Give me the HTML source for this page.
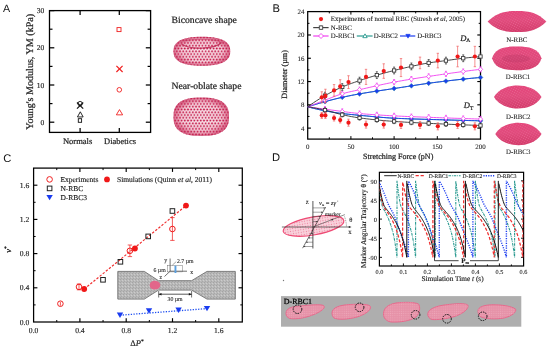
<!DOCTYPE html><html><head><meta charset="utf-8"><style>html,body{margin:0;padding:0;background:#fff;width:550px;height:350px;overflow:hidden;}svg{display:block;will-change:transform;text-rendering:geometricPrecision;filter:blur(0.3px);}</style></head><body>
<svg width="550" height="350" viewBox="0 0 550 350">
<defs>
<pattern id="mesh" width="3.2" height="5.543" patternUnits="userSpaceOnUse"><rect width="3.2" height="5.543" fill="#fcedf2"/><path d="M0,1.386 L3.2,1.386 M0,4.157 L3.2,4.157 M0.800,1.386 L2.400,4.157 M2.400,4.157 L4.000,6.928 M0.800,1.386 L-0.800,4.157 M2.400,4.157 L0.800,6.928 M4.000,1.386 L2.400,4.157 M2.400,-1.386 L0.800,1.386 M-0.800,-1.386 L0.800,1.386" stroke="#e8a0b4" stroke-width="0.4"/><circle cx="0.800" cy="1.386" r="0.92" fill="#c41c4c"/><circle cx="2.400" cy="4.157" r="0.92" fill="#c41c4c"/></pattern><radialGradient id="edgeA" cx="50%" cy="50%" r="50%"><stop offset="0%" stop-color="#d0305e" stop-opacity="0"/><stop offset="72%" stop-color="#d0305e" stop-opacity="0.12"/><stop offset="100%" stop-color="#c42856" stop-opacity="0.65"/></radialGradient>
<radialGradient id="rbcA" cx="50%" cy="55%" r="52%"><stop offset="0%" stop-color="#fae6ec"/><stop offset="60%" stop-color="#f0b4c6"/><stop offset="100%" stop-color="#d23a68"/></radialGradient>
<linearGradient id="rbcB" x1="0" y1="0" x2="0" y2="1"><stop offset="0%" stop-color="#e4447a"/><stop offset="45%" stop-color="#e04a7c"/><stop offset="100%" stop-color="#d23a6a"/></linearGradient><pattern id="meshB" width="2.2" height="2.2" patternUnits="userSpaceOnUse" patternTransform="rotate(30)"><circle cx="1.1" cy="1.1" r="0.6" fill="#f07aa0" opacity="0.6"/></pattern>
<pattern id="speck" width="3" height="3" patternUnits="userSpaceOnUse"><rect width="3" height="3" fill="#b8b8b8"/><rect x="0" y="0" width="1" height="1" fill="#a4a4a4"/><rect x="2" y="1" width="1" height="1" fill="#cccccc"/><rect x="1" y="2" width="1" height="1" fill="#a8a8a8"/></pattern>
<radialGradient id="cellin" cx="50%" cy="50%" r="50%"><stop offset="0%" stop-color="#dca4b2"/><stop offset="70%" stop-color="#e290a6"/><stop offset="100%" stop-color="#eb6a8c" stop-opacity="0"/></radialGradient><pattern id="cellmesh" width="2.2" height="2.2" patternUnits="userSpaceOnUse"><circle cx="1.1" cy="1.1" r="0.6" fill="#f2b0c0" opacity="0.7"/></pattern>
<radialGradient id="ctrA" cx="50%" cy="58%" r="50%"><stop offset="0%" stop-color="#fff" stop-opacity="0.45"/><stop offset="60%" stop-color="#fff" stop-opacity="0.2"/><stop offset="100%" stop-color="#fff" stop-opacity="0"/></radialGradient>
<pattern id="meshD" width="2.6" height="2.6" patternUnits="userSpaceOnUse"><rect width="2.6" height="2.6" fill="#f9d2dc"/><circle cx="1.3" cy="1.3" r="0.6" fill="#ee7f9c"/></pattern>
</defs>
<rect width="550" height="350" fill="#fff"/>
<text x="2.90" y="12.00" font-size="10.7" text-anchor="start" font-family='"Liberation Sans", sans-serif' fill="#111" stroke="#111" stroke-width="0" >A</text>
<text x="272.50" y="12.30" font-size="11.2" text-anchor="start" font-family='"Liberation Sans", sans-serif' fill="#111" stroke="#111" stroke-width="0" >B</text>
<text x="3.20" y="161.60" font-size="11.2" text-anchor="start" font-family='"Liberation Sans", sans-serif' fill="#111" stroke="#111" stroke-width="0" >C</text>
<text x="272.00" y="161.20" font-size="11.2" text-anchor="start" font-family='"Liberation Sans", sans-serif' fill="#111" stroke="#111" stroke-width="0" >D</text>
<rect x="49.50" y="10.60" width="101.10" height="121.80" fill="none" stroke="#000" stroke-width="1.3"/>
<line x1="49.50" y1="122.20" x2="54.30" y2="122.20" stroke="#000" stroke-width="1.25" />
<line x1="150.60" y1="122.20" x2="145.80" y2="122.20" stroke="#000" stroke-width="1.25" />
<line x1="49.50" y1="85.00" x2="54.30" y2="85.00" stroke="#000" stroke-width="1.25" />
<line x1="150.60" y1="85.00" x2="145.80" y2="85.00" stroke="#000" stroke-width="1.25" />
<line x1="49.50" y1="47.80" x2="54.30" y2="47.80" stroke="#000" stroke-width="1.25" />
<line x1="150.60" y1="47.80" x2="145.80" y2="47.80" stroke="#000" stroke-width="1.25" />
<line x1="49.50" y1="10.60" x2="54.30" y2="10.60" stroke="#000" stroke-width="1.25" />
<line x1="150.60" y1="10.60" x2="145.80" y2="10.60" stroke="#000" stroke-width="1.25" />
<line x1="49.50" y1="103.60" x2="52.50" y2="103.60" stroke="#000" stroke-width="1.2" />
<line x1="150.60" y1="103.60" x2="147.60" y2="103.60" stroke="#000" stroke-width="1.2" />
<line x1="49.50" y1="66.40" x2="52.50" y2="66.40" stroke="#000" stroke-width="1.2" />
<line x1="150.60" y1="66.40" x2="147.60" y2="66.40" stroke="#000" stroke-width="1.2" />
<line x1="49.50" y1="29.20" x2="52.50" y2="29.20" stroke="#000" stroke-width="1.2" />
<line x1="150.60" y1="29.20" x2="147.60" y2="29.20" stroke="#000" stroke-width="1.2" />
<line x1="80.10" y1="132.40" x2="80.10" y2="128.00" stroke="#000" stroke-width="1.25" />
<line x1="80.10" y1="10.60" x2="80.10" y2="15.00" stroke="#000" stroke-width="1.25" />
<line x1="119.30" y1="132.40" x2="119.30" y2="128.00" stroke="#000" stroke-width="1.25" />
<line x1="119.30" y1="10.60" x2="119.30" y2="15.00" stroke="#000" stroke-width="1.25" />
<text x="44.30" y="124.80" font-size="7.5" text-anchor="end" font-family='"Liberation Serif", serif' fill="#222" stroke="#222" stroke-width="0.15" >0</text>
<text x="44.30" y="87.60" font-size="7.5" text-anchor="end" font-family='"Liberation Serif", serif' fill="#222" stroke="#222" stroke-width="0.15" >10</text>
<text x="44.30" y="50.40" font-size="7.5" text-anchor="end" font-family='"Liberation Serif", serif' fill="#222" stroke="#222" stroke-width="0.15" >20</text>
<text x="44.30" y="13.20" font-size="7.5" text-anchor="end" font-family='"Liberation Serif", serif' fill="#222" stroke="#222" stroke-width="0.15" >30</text>
<text x="32.60" y="71.80" font-size="10.1" text-anchor="middle" font-family='"Liberation Serif", serif' fill="#222" stroke="#222" stroke-width="0.22" transform="rotate(-90 32.6 71.8)">Young's Modulus, YM (kPa)</text>
<text x="77.60" y="143.60" font-size="8.55" text-anchor="middle" font-family='"Liberation Serif", serif' fill="#222" stroke="#222" stroke-width="0.22" >Normals</text>
<text x="120.05" y="143.60" font-size="8.45" text-anchor="middle" font-family='"Liberation Serif", serif' fill="#222" stroke="#222" stroke-width="0.22" >Diabetics</text>
<circle cx="80.10" cy="103.60" r="2.2" fill="none" stroke="#111" stroke-width="0.9"/>
<line x1="77.00" y1="102.50" x2="83.20" y2="108.70" stroke="#111" stroke-width="1.15" />
<line x1="77.00" y1="108.70" x2="83.20" y2="102.50" stroke="#111" stroke-width="1.15" />
<polygon points="77.45,116.95 83.15,116.95 80.30,111.80" fill="none" stroke="#111" stroke-width="0.9"/>
<rect x="78.3" y="118.7" width="3.3" height="3.6" fill="none" stroke="#111" stroke-width="0.9"/>
<rect x="117.0" y="27.6" width="4.0" height="4.0" fill="none" stroke="#f02020" stroke-width="0.9"/>
<line x1="116.40" y1="65.80" x2="122.60" y2="72.00" stroke="#f02020" stroke-width="1.2" />
<line x1="116.40" y1="72.00" x2="122.60" y2="65.80" stroke="#f02020" stroke-width="1.2" />
<circle cx="119.30" cy="89.80" r="2.3" fill="none" stroke="#f02020" stroke-width="0.9"/>
<polygon points="116.35,114.85 122.65,114.85 119.50,109.60" fill="none" stroke="#f02020" stroke-width="0.9"/>
<text x="171.50" y="23.00" font-size="9.7" text-anchor="start" font-family='"Liberation Serif", serif' fill="#222" stroke="#222" stroke-width="0.22" >Biconcave shape</text>
<text x="171.50" y="89.00" font-size="9.7" text-anchor="start" font-family='"Liberation Serif", serif' fill="#222" stroke="#222" stroke-width="0.22" >Near-oblate shape</text>
<path d="M230.20,51.25 L230.11,53.30 L229.85,54.81 L229.42,56.15 L228.82,57.38 L228.05,58.50 L227.12,59.55 L226.02,60.51 L224.76,61.40 L223.34,62.20 L221.76,62.93 L220.02,63.57 L218.13,64.13 L216.08,64.61 L213.87,65.00 L211.47,65.30 L208.84,65.52 L205.88,65.66 L201.85,65.70 L197.82,65.66 L194.86,65.52 L192.23,65.30 L189.83,65.00 L187.62,64.61 L185.57,64.13 L183.68,63.57 L181.94,62.93 L180.36,62.20 L178.94,61.40 L177.68,60.51 L176.58,59.55 L175.65,58.50 L174.88,57.38 L174.28,56.15 L173.85,54.81 L173.59,53.30 L173.50,51.25 L173.59,49.20 L173.85,47.69 L174.28,46.35 L174.88,45.12 L175.65,44.00 L176.58,42.95 L177.68,41.99 L178.94,41.10 L180.36,40.30 L181.94,39.57 L183.68,38.93 L185.57,38.37 L187.62,37.89 L189.83,37.50 L192.23,37.20 L194.86,36.98 L197.82,36.84 L201.85,36.80 L205.88,36.84 L208.84,36.98 L211.47,37.20 L213.87,37.50 L216.08,37.89 L218.13,38.37 L220.02,38.93 L221.76,39.57 L223.34,40.30 L224.76,41.10 L226.02,41.99 L227.12,42.95 L228.05,44.00 L228.82,45.12 L229.42,46.35 L229.85,47.69 L230.11,49.20 Z" fill="url(#mesh)"/>
<path d="M230.20,51.25 L230.11,53.30 L229.85,54.81 L229.42,56.15 L228.82,57.38 L228.05,58.50 L227.12,59.55 L226.02,60.51 L224.76,61.40 L223.34,62.20 L221.76,62.93 L220.02,63.57 L218.13,64.13 L216.08,64.61 L213.87,65.00 L211.47,65.30 L208.84,65.52 L205.88,65.66 L201.85,65.70 L197.82,65.66 L194.86,65.52 L192.23,65.30 L189.83,65.00 L187.62,64.61 L185.57,64.13 L183.68,63.57 L181.94,62.93 L180.36,62.20 L178.94,61.40 L177.68,60.51 L176.58,59.55 L175.65,58.50 L174.88,57.38 L174.28,56.15 L173.85,54.81 L173.59,53.30 L173.50,51.25 L173.59,49.20 L173.85,47.69 L174.28,46.35 L174.88,45.12 L175.65,44.00 L176.58,42.95 L177.68,41.99 L178.94,41.10 L180.36,40.30 L181.94,39.57 L183.68,38.93 L185.57,38.37 L187.62,37.89 L189.83,37.50 L192.23,37.20 L194.86,36.98 L197.82,36.84 L201.85,36.80 L205.88,36.84 L208.84,36.98 L211.47,37.20 L213.87,37.50 L216.08,37.89 L218.13,38.37 L220.02,38.93 L221.76,39.57 L223.34,40.30 L224.76,41.10 L226.02,41.99 L227.12,42.95 L228.05,44.00 L228.82,45.12 L229.42,46.35 L229.85,47.69 L230.11,49.20 Z" fill="url(#edgeA)"/>
<path d="M229.00,116.70 L228.92,119.64 L228.68,121.69 L228.27,123.49 L227.70,125.11 L226.98,126.60 L226.09,127.97 L225.05,129.22 L223.86,130.37 L222.51,131.41 L221.00,132.34 L219.35,133.17 L217.53,133.89 L215.56,134.50 L213.41,135.00 L211.06,135.39 L208.47,135.68 L205.50,135.84 L201.25,135.90 L197.00,135.84 L194.03,135.68 L191.44,135.39 L189.09,135.00 L186.94,134.50 L184.97,133.89 L183.15,133.17 L181.50,132.34 L179.99,131.41 L178.64,130.37 L177.45,129.22 L176.41,127.97 L175.52,126.60 L174.80,125.11 L174.23,123.49 L173.82,121.69 L173.58,119.64 L173.50,116.70 L173.58,113.76 L173.82,111.71 L174.23,109.91 L174.80,108.29 L175.52,106.80 L176.41,105.43 L177.45,104.18 L178.64,103.03 L179.99,101.99 L181.50,101.06 L183.15,100.23 L184.97,99.51 L186.94,98.90 L189.09,98.40 L191.44,98.01 L194.03,97.72 L197.00,97.56 L201.25,97.50 L205.50,97.56 L208.47,97.72 L211.06,98.01 L213.41,98.40 L215.56,98.90 L217.53,99.51 L219.35,100.23 L221.00,101.06 L222.51,101.99 L223.86,103.03 L225.05,104.18 L226.09,105.43 L226.98,106.80 L227.70,108.29 L228.27,109.91 L228.68,111.71 L228.92,113.76 Z" fill="url(#mesh)"/>
<path d="M229.00,116.70 L228.92,119.64 L228.68,121.69 L228.27,123.49 L227.70,125.11 L226.98,126.60 L226.09,127.97 L225.05,129.22 L223.86,130.37 L222.51,131.41 L221.00,132.34 L219.35,133.17 L217.53,133.89 L215.56,134.50 L213.41,135.00 L211.06,135.39 L208.47,135.68 L205.50,135.84 L201.25,135.90 L197.00,135.84 L194.03,135.68 L191.44,135.39 L189.09,135.00 L186.94,134.50 L184.97,133.89 L183.15,133.17 L181.50,132.34 L179.99,131.41 L178.64,130.37 L177.45,129.22 L176.41,127.97 L175.52,126.60 L174.80,125.11 L174.23,123.49 L173.82,121.69 L173.58,119.64 L173.50,116.70 L173.58,113.76 L173.82,111.71 L174.23,109.91 L174.80,108.29 L175.52,106.80 L176.41,105.43 L177.45,104.18 L178.64,103.03 L179.99,101.99 L181.50,101.06 L183.15,100.23 L184.97,99.51 L186.94,98.90 L189.09,98.40 L191.44,98.01 L194.03,97.72 L197.00,97.56 L201.25,97.50 L205.50,97.56 L208.47,97.72 L211.06,98.01 L213.41,98.40 L215.56,98.90 L217.53,99.51 L219.35,100.23 L221.00,101.06 L222.51,101.99 L223.86,103.03 L225.05,104.18 L226.09,105.43 L226.98,106.80 L227.70,108.29 L228.27,109.91 L228.68,111.71 L228.92,113.76 Z" fill="url(#edgeA)"/>
<path d="M181.5,44 C186,47.5 195,48.2 202,48 C210,47.8 218,46.5 221.5,42.5" fill="none" stroke="#c02a56" stroke-width="1.2" opacity="0.85"/>
<path d="M184,41 C190,39 214,38.5 220,41.5" fill="none" stroke="#c02a56" stroke-width="0.8" opacity="0.6"/>
<rect x="307.70" y="11.60" width="172.80" height="127.50" fill="none" stroke="#000" stroke-width="1.25"/>
<line x1="307.70" y1="128.10" x2="310.90" y2="128.10" stroke="#000" stroke-width="1.15" />
<line x1="480.50" y1="128.10" x2="477.30" y2="128.10" stroke="#000" stroke-width="1.15" />
<line x1="307.70" y1="104.82" x2="310.90" y2="104.82" stroke="#000" stroke-width="1.15" />
<line x1="480.50" y1="104.82" x2="477.30" y2="104.82" stroke="#000" stroke-width="1.15" />
<line x1="307.70" y1="81.54" x2="310.90" y2="81.54" stroke="#000" stroke-width="1.15" />
<line x1="480.50" y1="81.54" x2="477.30" y2="81.54" stroke="#000" stroke-width="1.15" />
<line x1="307.70" y1="58.26" x2="310.90" y2="58.26" stroke="#000" stroke-width="1.15" />
<line x1="480.50" y1="58.26" x2="477.30" y2="58.26" stroke="#000" stroke-width="1.15" />
<line x1="307.70" y1="34.98" x2="310.90" y2="34.98" stroke="#000" stroke-width="1.15" />
<line x1="480.50" y1="34.98" x2="477.30" y2="34.98" stroke="#000" stroke-width="1.15" />
<line x1="307.70" y1="116.46" x2="309.50" y2="116.46" stroke="#000" stroke-width="1" />
<line x1="480.50" y1="116.46" x2="478.70" y2="116.46" stroke="#000" stroke-width="1" />
<line x1="307.70" y1="93.18" x2="309.50" y2="93.18" stroke="#000" stroke-width="1" />
<line x1="480.50" y1="93.18" x2="478.70" y2="93.18" stroke="#000" stroke-width="1" />
<line x1="307.70" y1="69.90" x2="309.50" y2="69.90" stroke="#000" stroke-width="1" />
<line x1="480.50" y1="69.90" x2="478.70" y2="69.90" stroke="#000" stroke-width="1" />
<line x1="307.70" y1="46.62" x2="309.50" y2="46.62" stroke="#000" stroke-width="1" />
<line x1="480.50" y1="46.62" x2="478.70" y2="46.62" stroke="#000" stroke-width="1" />
<line x1="307.70" y1="23.34" x2="309.50" y2="23.34" stroke="#000" stroke-width="1" />
<line x1="480.50" y1="23.34" x2="478.70" y2="23.34" stroke="#000" stroke-width="1" />
<line x1="350.90" y1="139.10" x2="350.90" y2="136.10" stroke="#000" stroke-width="1" />
<line x1="350.90" y1="11.60" x2="350.90" y2="14.60" stroke="#000" stroke-width="1" />
<line x1="394.10" y1="139.10" x2="394.10" y2="136.10" stroke="#000" stroke-width="1" />
<line x1="394.10" y1="11.60" x2="394.10" y2="14.60" stroke="#000" stroke-width="1" />
<line x1="437.30" y1="139.10" x2="437.30" y2="136.10" stroke="#000" stroke-width="1" />
<line x1="437.30" y1="11.60" x2="437.30" y2="14.60" stroke="#000" stroke-width="1" />
<line x1="329.30" y1="139.10" x2="329.30" y2="137.30" stroke="#000" stroke-width="1" />
<line x1="329.30" y1="11.60" x2="329.30" y2="13.40" stroke="#000" stroke-width="1" />
<line x1="372.50" y1="139.10" x2="372.50" y2="137.30" stroke="#000" stroke-width="1" />
<line x1="372.50" y1="11.60" x2="372.50" y2="13.40" stroke="#000" stroke-width="1" />
<line x1="415.70" y1="139.10" x2="415.70" y2="137.30" stroke="#000" stroke-width="1" />
<line x1="415.70" y1="11.60" x2="415.70" y2="13.40" stroke="#000" stroke-width="1" />
<line x1="458.90" y1="139.10" x2="458.90" y2="137.30" stroke="#000" stroke-width="1" />
<line x1="458.90" y1="11.60" x2="458.90" y2="13.40" stroke="#000" stroke-width="1" />
<text x="304.40" y="130.50" font-size="6.9" text-anchor="end" font-family='"Liberation Serif", serif' fill="#222" stroke="#222" stroke-width="0.09" >4</text>
<text x="304.40" y="107.22" font-size="6.9" text-anchor="end" font-family='"Liberation Serif", serif' fill="#222" stroke="#222" stroke-width="0.09" >8</text>
<text x="304.40" y="83.94" font-size="6.9" text-anchor="end" font-family='"Liberation Serif", serif' fill="#222" stroke="#222" stroke-width="0.09" >12</text>
<text x="304.40" y="60.66" font-size="6.9" text-anchor="end" font-family='"Liberation Serif", serif' fill="#222" stroke="#222" stroke-width="0.09" >16</text>
<text x="304.40" y="37.38" font-size="6.9" text-anchor="end" font-family='"Liberation Serif", serif' fill="#222" stroke="#222" stroke-width="0.09" >20</text>
<text x="304.40" y="14.10" font-size="6.9" text-anchor="end" font-family='"Liberation Serif", serif' fill="#222" stroke="#222" stroke-width="0.09" >24</text>
<text x="307.70" y="148.50" font-size="6.9" text-anchor="middle" font-family='"Liberation Serif", serif' fill="#222" stroke="#222" stroke-width="0.09" >0</text>
<text x="350.90" y="148.50" font-size="6.9" text-anchor="middle" font-family='"Liberation Serif", serif' fill="#222" stroke="#222" stroke-width="0.09" >50</text>
<text x="394.10" y="148.50" font-size="6.9" text-anchor="middle" font-family='"Liberation Serif", serif' fill="#222" stroke="#222" stroke-width="0.09" >100</text>
<text x="437.30" y="148.50" font-size="6.9" text-anchor="middle" font-family='"Liberation Serif", serif' fill="#222" stroke="#222" stroke-width="0.09" >150</text>
<text x="480.50" y="148.50" font-size="6.9" text-anchor="middle" font-family='"Liberation Serif", serif' fill="#222" stroke="#222" stroke-width="0.09" >200</text>
<text x="286.90" y="74.40" font-size="8.1" text-anchor="middle" font-family='"Liberation Serif", serif' fill="#222" stroke="#222" stroke-width="0.22" transform="rotate(-90 286.9 74.4)">Diameter (µm)</text>
<text x="398.20" y="159.10" font-size="8.0" text-anchor="middle" font-family='"Liberation Serif", serif' fill="#222" stroke="#222" stroke-width="0.22" >Stretching Force (pN)</text>
<polyline points="307.70,106.80 310.63,105.88 313.56,104.98 316.49,104.10 319.42,103.24 322.34,102.41 325.27,101.60 328.20,100.81 331.13,100.03 334.06,99.27 336.99,98.54 339.92,97.85 342.85,97.18 345.77,96.55 348.70,95.94 351.63,95.35 354.56,94.79 357.49,94.25 360.42,93.72 363.35,93.22 366.28,92.74 369.21,92.27 372.13,91.81 375.06,91.36 377.99,90.92 380.92,90.48 383.85,90.05 386.78,89.62 389.71,89.18 392.64,88.75 395.56,88.30 398.49,87.85 401.42,87.40 404.35,86.94 407.28,86.48 410.21,86.03 413.14,85.57 416.07,85.12 418.99,84.68 421.92,84.24 424.85,83.81 427.78,83.39 430.71,82.98 433.64,82.59 436.57,82.21 439.50,81.85 442.43,81.49 445.35,81.14 448.28,80.79 451.21,80.45 454.14,80.12 457.07,79.79 460.00,79.47 462.93,79.16 465.86,78.86 468.78,78.56 471.71,78.28 474.64,78.00 477.57,77.73 480.50,77.47" fill="none" stroke="#2a9a90" stroke-width="0.9" />
<polyline points="307.70,106.80 310.63,107.57 313.56,108.31 316.49,109.02 319.42,109.68 322.34,110.30 325.27,110.87 328.20,111.41 331.13,111.91 334.06,112.39 336.99,112.84 339.92,113.25 342.85,113.62 345.77,113.96 348.70,114.27 351.63,114.56 354.56,114.84 357.49,115.11 360.42,115.38 363.35,115.66 366.28,115.94 369.21,116.22 372.13,116.50 375.06,116.78 377.99,117.05 380.92,117.30 383.85,117.54 386.78,117.76 389.71,117.96 392.64,118.13 395.56,118.28 398.49,118.41 401.42,118.53 404.35,118.65 407.28,118.76 410.21,118.86 413.14,118.96 416.07,119.05 418.99,119.14 421.92,119.22 424.85,119.30 427.78,119.39 430.71,119.47 433.64,119.55 436.57,119.64 439.50,119.73 442.43,119.81 445.35,119.90 448.28,119.98 451.21,120.07 454.14,120.15 457.07,120.23 460.00,120.31 462.93,120.39 465.86,120.46 468.78,120.54 471.71,120.61 474.64,120.68 477.57,120.76 480.50,120.83" fill="none" stroke="#2a9a90" stroke-width="0.9" />
<polyline points="307.70,106.80 310.63,105.88 313.56,104.98 316.49,104.10 319.42,103.24 322.34,102.41 325.27,101.60 328.20,100.81 331.13,100.03 334.06,99.27 336.99,98.54 339.92,97.85 342.85,97.18 345.77,96.55 348.70,95.94 351.63,95.35 354.56,94.79 357.49,94.25 360.42,93.72 363.35,93.22 366.28,92.74 369.21,92.27 372.13,91.81 375.06,91.36 377.99,90.92 380.92,90.48 383.85,90.05 386.78,89.62 389.71,89.18 392.64,88.75 395.56,88.30 398.49,87.85 401.42,87.40 404.35,86.94 407.28,86.48 410.21,86.03 413.14,85.57 416.07,85.12 418.99,84.68 421.92,84.24 424.85,83.81 427.78,83.39 430.71,82.98 433.64,82.59 436.57,82.21 439.50,81.85 442.43,81.49 445.35,81.14 448.28,80.79 451.21,80.45 454.14,80.12 457.07,79.79 460.00,79.47 462.93,79.16 465.86,78.86 468.78,78.56 471.71,78.28 474.64,78.00 477.57,77.73 480.50,77.47" fill="none" stroke="#1a3cf0" stroke-width="0.9" />
<polyline points="307.70,106.80 310.63,107.57 313.56,108.31 316.49,109.02 319.42,109.68 322.34,110.30 325.27,110.87 328.20,111.41 331.13,111.91 334.06,112.39 336.99,112.84 339.92,113.25 342.85,113.62 345.77,113.96 348.70,114.27 351.63,114.56 354.56,114.84 357.49,115.11 360.42,115.38 363.35,115.66 366.28,115.94 369.21,116.22 372.13,116.50 375.06,116.78 377.99,117.05 380.92,117.30 383.85,117.54 386.78,117.76 389.71,117.96 392.64,118.13 395.56,118.28 398.49,118.41 401.42,118.53 404.35,118.65 407.28,118.76 410.21,118.86 413.14,118.96 416.07,119.05 418.99,119.14 421.92,119.22 424.85,119.30 427.78,119.39 430.71,119.47 433.64,119.55 436.57,119.64 439.50,119.73 442.43,119.81 445.35,119.90 448.28,119.98 451.21,120.07 454.14,120.15 457.07,120.23 460.00,120.31 462.93,120.39 465.86,120.46 468.78,120.54 471.71,120.61 474.64,120.68 477.57,120.76 480.50,120.83" fill="none" stroke="#1a3cf0" stroke-width="0.9" />
<polyline points="307.70,106.80 310.63,105.66 313.56,104.52 316.49,103.40 319.42,102.27 322.34,101.16 325.27,100.05 328.20,98.92 331.13,97.75 334.06,96.60 336.99,95.50 339.92,94.48 342.85,93.60 345.77,92.81 348.70,92.10 351.63,91.43 354.56,90.79 357.49,90.15 360.42,89.49 363.35,88.82 366.28,88.14 369.21,87.46 372.13,86.79 375.06,86.12 377.99,85.47 380.92,84.82 383.85,84.19 386.78,83.57 389.71,82.97 392.64,82.40 395.56,81.85 398.49,81.32 401.42,80.80 404.35,80.29 407.28,79.79 410.21,79.30 413.14,78.82 416.07,78.36 418.99,77.89 421.92,77.44 424.85,76.99 427.78,76.55 430.71,76.11 433.64,75.68 436.57,75.25 439.50,74.82 442.43,74.39 445.35,73.97 448.28,73.56 451.21,73.14 454.14,72.74 457.07,72.34 460.00,71.94 462.93,71.55 465.86,71.16 468.78,70.78 471.71,70.41 474.64,70.04 477.57,69.68 480.50,69.32" fill="none" stroke="#f040f0" stroke-width="0.9" />
<polyline points="307.70,106.80 310.63,107.19 313.56,107.59 316.49,107.98 319.42,108.38 322.34,108.77 325.27,109.17 328.20,109.56 331.13,109.97 334.06,110.37 336.99,110.76 339.92,111.15 342.85,111.53 345.77,111.91 348.70,112.30 351.63,112.68 354.56,113.03 357.49,113.35 360.42,113.63 363.35,113.88 366.28,114.12 369.21,114.34 372.13,114.56 375.06,114.76 377.99,114.96 380.92,115.14 383.85,115.32 386.78,115.49 389.71,115.65 392.64,115.80 395.56,115.95 398.49,116.09 401.42,116.23 404.35,116.36 407.28,116.49 410.21,116.61 413.14,116.73 416.07,116.84 418.99,116.95 421.92,117.06 424.85,117.17 427.78,117.28 430.71,117.38 433.64,117.49 436.57,117.60 439.50,117.70 442.43,117.81 445.35,117.92 448.28,118.02 451.21,118.12 454.14,118.22 457.07,118.32 460.00,118.42 462.93,118.52 465.86,118.62 468.78,118.71 471.71,118.81 474.64,118.90 477.57,118.99 480.50,119.08" fill="none" stroke="#f040f0" stroke-width="0.9" />
<polyline points="307.70,106.80 310.63,104.72 313.56,102.72 316.49,100.78 319.42,98.93 322.34,97.15 325.27,95.46 328.20,93.83 331.13,92.27 334.06,90.76 336.99,89.33 339.92,87.97 342.85,86.71 345.77,85.52 348.70,84.40 351.63,83.34 354.56,82.31 357.49,81.31 360.42,80.31 363.35,79.33 366.28,78.38 369.21,77.44 372.13,76.54 375.06,75.65 377.99,74.80 380.92,73.97 383.85,73.16 386.78,72.37 389.71,71.60 392.64,70.85 395.56,70.12 398.49,69.39 401.42,68.69 404.35,67.99 407.28,67.32 410.21,66.66 413.14,66.02 416.07,65.38 418.99,64.76 421.92,64.15 424.85,63.58 427.78,63.06 430.71,62.60 433.64,62.18 436.57,61.79 439.50,61.42 442.43,61.05 445.35,60.67 448.28,60.27 451.21,59.86 454.14,59.44 457.07,59.04 460.00,58.65 462.93,58.29 465.86,57.96 468.78,57.64 471.71,57.33 474.64,57.04 477.57,56.77 480.50,56.51" fill="none" stroke="#333" stroke-width="0.9" />
<polyline points="307.70,106.80 310.63,107.26 313.56,107.76 316.49,108.30 319.42,108.87 322.34,109.48 325.27,110.12 328.20,110.85 331.13,111.66 334.06,112.52 336.99,113.37 339.92,114.16 342.85,114.84 345.77,115.47 348.70,116.07 351.63,116.63 354.56,117.15 357.49,117.62 360.42,118.03 363.35,118.41 366.28,118.78 369.21,119.12 372.13,119.45 375.06,119.76 377.99,120.05 380.92,120.33 383.85,120.60 386.78,120.85 389.71,121.08 392.64,121.30 395.56,121.51 398.49,121.71 401.42,121.90 404.35,122.08 407.28,122.25 410.21,122.41 413.14,122.57 416.07,122.72 418.99,122.87 421.92,123.02 424.85,123.16 427.78,123.29 430.71,123.43 433.64,123.57 436.57,123.70 439.50,123.84 442.43,123.97 445.35,124.10 448.28,124.23 451.21,124.35 454.14,124.48 457.07,124.60 460.00,124.72 462.93,124.84 465.86,124.95 468.78,125.06 471.71,125.17 474.64,125.28 477.57,125.38 480.50,125.48" fill="none" stroke="#333" stroke-width="0.9" />
<polygon points="324.98,99.28 327.38,101.68 324.98,104.08 322.58,101.68" fill="#1a3cf0" stroke="#2a8aa0" stroke-width="0.5"/>
<polygon points="324.98,108.41 327.38,110.81 324.98,113.21 322.58,110.81" fill="#1a3cf0" stroke="#2a8aa0" stroke-width="0.5"/>
<line x1="324.98" y1="97.56" x2="324.98" y2="102.76" stroke="#f040f0" stroke-width="0.7" />
<line x1="323.98" y1="97.56" x2="325.98" y2="97.56" stroke="#f040f0" stroke-width="0.7" />
<line x1="323.98" y1="102.76" x2="325.98" y2="102.76" stroke="#f040f0" stroke-width="0.7" />
<polygon points="324.98,97.96 327.18,100.16 324.98,102.36 322.78,100.16" fill="#fff" stroke="#f040f0" stroke-width="0.8"/>
<line x1="324.98" y1="106.53" x2="324.98" y2="111.73" stroke="#f040f0" stroke-width="0.7" />
<line x1="323.98" y1="106.53" x2="325.98" y2="106.53" stroke="#f040f0" stroke-width="0.7" />
<line x1="323.98" y1="111.73" x2="325.98" y2="111.73" stroke="#f040f0" stroke-width="0.7" />
<polygon points="324.98,106.93 327.18,109.13 324.98,111.33 322.78,109.13" fill="#fff" stroke="#f040f0" stroke-width="0.8"/>
<line x1="324.98" y1="92.22" x2="324.98" y2="99.02" stroke="#333" stroke-width="0.7" />
<line x1="323.98" y1="92.22" x2="325.98" y2="92.22" stroke="#333" stroke-width="0.7" />
<line x1="323.98" y1="99.02" x2="325.98" y2="99.02" stroke="#333" stroke-width="0.7" />
<rect x="323.33" y="93.97" width="3.3" height="3.3" fill="#fff" stroke="#333" stroke-width="0.85"/>
<line x1="324.98" y1="107.86" x2="324.98" y2="112.26" stroke="#333" stroke-width="0.7" />
<line x1="323.98" y1="107.86" x2="325.98" y2="107.86" stroke="#333" stroke-width="0.7" />
<line x1="323.98" y1="112.26" x2="325.98" y2="112.26" stroke="#333" stroke-width="0.7" />
<rect x="323.33" y="108.41" width="3.3" height="3.3" fill="#fff" stroke="#333" stroke-width="0.85"/>
<polygon points="342.26,94.91 344.66,97.31 342.26,99.71 339.86,97.31" fill="#1a3cf0" stroke="#2a8aa0" stroke-width="0.5"/>
<polygon points="342.26,111.15 344.66,113.55 342.26,115.95 339.86,113.55" fill="#1a3cf0" stroke="#2a8aa0" stroke-width="0.5"/>
<line x1="342.26" y1="91.16" x2="342.26" y2="96.36" stroke="#f040f0" stroke-width="0.7" />
<line x1="341.26" y1="91.16" x2="343.26" y2="91.16" stroke="#f040f0" stroke-width="0.7" />
<line x1="341.26" y1="96.36" x2="343.26" y2="96.36" stroke="#f040f0" stroke-width="0.7" />
<polygon points="342.26,91.56 344.46,93.76 342.26,95.96 340.06,93.76" fill="#fff" stroke="#f040f0" stroke-width="0.8"/>
<line x1="342.26" y1="108.85" x2="342.26" y2="114.05" stroke="#f040f0" stroke-width="0.7" />
<line x1="341.26" y1="108.85" x2="343.26" y2="108.85" stroke="#f040f0" stroke-width="0.7" />
<line x1="341.26" y1="114.05" x2="343.26" y2="114.05" stroke="#f040f0" stroke-width="0.7" />
<polygon points="342.26,109.25 344.46,111.45 342.26,113.65 340.06,111.45" fill="#fff" stroke="#f040f0" stroke-width="0.8"/>
<line x1="342.26" y1="83.55" x2="342.26" y2="90.35" stroke="#333" stroke-width="0.7" />
<line x1="341.26" y1="83.55" x2="343.26" y2="83.55" stroke="#333" stroke-width="0.7" />
<line x1="341.26" y1="90.35" x2="343.26" y2="90.35" stroke="#333" stroke-width="0.7" />
<rect x="340.61" y="85.30" width="3.3" height="3.3" fill="#fff" stroke="#333" stroke-width="0.85"/>
<line x1="342.26" y1="112.51" x2="342.26" y2="116.91" stroke="#333" stroke-width="0.7" />
<line x1="341.26" y1="112.51" x2="343.26" y2="112.51" stroke="#333" stroke-width="0.7" />
<line x1="341.26" y1="116.91" x2="343.26" y2="116.91" stroke="#333" stroke-width="0.7" />
<rect x="340.61" y="113.06" width="3.3" height="3.3" fill="#fff" stroke="#333" stroke-width="0.85"/>
<polygon points="359.54,91.48 361.94,93.88 359.54,96.28 357.14,93.88" fill="#1a3cf0" stroke="#2a8aa0" stroke-width="0.5"/>
<polygon points="359.54,112.90 361.94,115.30 359.54,117.70 357.14,115.30" fill="#1a3cf0" stroke="#2a8aa0" stroke-width="0.5"/>
<line x1="359.54" y1="87.09" x2="359.54" y2="92.29" stroke="#f040f0" stroke-width="0.7" />
<line x1="358.54" y1="87.09" x2="360.54" y2="87.09" stroke="#f040f0" stroke-width="0.7" />
<line x1="358.54" y1="92.29" x2="360.54" y2="92.29" stroke="#f040f0" stroke-width="0.7" />
<polygon points="359.54,87.49 361.74,89.69 359.54,91.89 357.34,89.69" fill="#fff" stroke="#f040f0" stroke-width="0.8"/>
<line x1="359.54" y1="110.95" x2="359.54" y2="116.15" stroke="#f040f0" stroke-width="0.7" />
<line x1="358.54" y1="110.95" x2="360.54" y2="110.95" stroke="#f040f0" stroke-width="0.7" />
<line x1="358.54" y1="116.15" x2="360.54" y2="116.15" stroke="#f040f0" stroke-width="0.7" />
<polygon points="359.54,111.35 361.74,113.55 359.54,115.75 357.34,113.55" fill="#fff" stroke="#f040f0" stroke-width="0.8"/>
<line x1="359.54" y1="77.21" x2="359.54" y2="84.01" stroke="#333" stroke-width="0.7" />
<line x1="358.54" y1="77.21" x2="360.54" y2="77.21" stroke="#333" stroke-width="0.7" />
<line x1="358.54" y1="84.01" x2="360.54" y2="84.01" stroke="#333" stroke-width="0.7" />
<rect x="357.89" y="78.96" width="3.3" height="3.3" fill="#fff" stroke="#333" stroke-width="0.85"/>
<line x1="359.54" y1="115.71" x2="359.54" y2="120.11" stroke="#333" stroke-width="0.7" />
<line x1="358.54" y1="115.71" x2="360.54" y2="115.71" stroke="#333" stroke-width="0.7" />
<line x1="358.54" y1="120.11" x2="360.54" y2="120.11" stroke="#333" stroke-width="0.7" />
<rect x="357.89" y="116.26" width="3.3" height="3.3" fill="#fff" stroke="#333" stroke-width="0.85"/>
<polygon points="376.82,88.69 379.22,91.09 376.82,93.49 374.42,91.09" fill="#1a3cf0" stroke="#2a8aa0" stroke-width="0.5"/>
<polygon points="376.82,114.54 379.22,116.94 376.82,119.34 374.42,116.94" fill="#1a3cf0" stroke="#2a8aa0" stroke-width="0.5"/>
<line x1="376.82" y1="83.13" x2="376.82" y2="88.33" stroke="#f040f0" stroke-width="0.7" />
<line x1="375.82" y1="83.13" x2="377.82" y2="83.13" stroke="#f040f0" stroke-width="0.7" />
<line x1="375.82" y1="88.33" x2="377.82" y2="88.33" stroke="#f040f0" stroke-width="0.7" />
<polygon points="376.82,83.53 379.02,85.73 376.82,87.93 374.62,85.73" fill="#fff" stroke="#f040f0" stroke-width="0.8"/>
<line x1="376.82" y1="112.28" x2="376.82" y2="117.48" stroke="#f040f0" stroke-width="0.7" />
<line x1="375.82" y1="112.28" x2="377.82" y2="112.28" stroke="#f040f0" stroke-width="0.7" />
<line x1="375.82" y1="117.48" x2="377.82" y2="117.48" stroke="#f040f0" stroke-width="0.7" />
<polygon points="376.82,112.68 379.02,114.88 376.82,117.08 374.62,114.88" fill="#fff" stroke="#f040f0" stroke-width="0.8"/>
<line x1="376.82" y1="71.74" x2="376.82" y2="78.54" stroke="#333" stroke-width="0.7" />
<line x1="375.82" y1="71.74" x2="377.82" y2="71.74" stroke="#333" stroke-width="0.7" />
<line x1="375.82" y1="78.54" x2="377.82" y2="78.54" stroke="#333" stroke-width="0.7" />
<rect x="375.17" y="73.49" width="3.3" height="3.3" fill="#fff" stroke="#333" stroke-width="0.85"/>
<line x1="376.82" y1="117.74" x2="376.82" y2="122.14" stroke="#333" stroke-width="0.7" />
<line x1="375.82" y1="117.74" x2="377.82" y2="117.74" stroke="#333" stroke-width="0.7" />
<line x1="375.82" y1="122.14" x2="377.82" y2="122.14" stroke="#333" stroke-width="0.7" />
<rect x="375.17" y="118.29" width="3.3" height="3.3" fill="#fff" stroke="#333" stroke-width="0.85"/>
<polygon points="394.10,86.12 396.50,88.52 394.10,90.92 391.70,88.52" fill="#1a3cf0" stroke="#2a8aa0" stroke-width="0.5"/>
<polygon points="394.10,115.81 396.50,118.21 394.10,120.61 391.70,118.21" fill="#1a3cf0" stroke="#2a8aa0" stroke-width="0.5"/>
<line x1="394.10" y1="79.52" x2="394.10" y2="84.72" stroke="#f040f0" stroke-width="0.7" />
<line x1="393.10" y1="79.52" x2="395.10" y2="79.52" stroke="#f040f0" stroke-width="0.7" />
<line x1="393.10" y1="84.72" x2="395.10" y2="84.72" stroke="#f040f0" stroke-width="0.7" />
<polygon points="394.10,79.92 396.30,82.12 394.10,84.32 391.90,82.12" fill="#fff" stroke="#f040f0" stroke-width="0.8"/>
<line x1="394.10" y1="113.28" x2="394.10" y2="118.48" stroke="#f040f0" stroke-width="0.7" />
<line x1="393.10" y1="113.28" x2="395.10" y2="113.28" stroke="#f040f0" stroke-width="0.7" />
<line x1="393.10" y1="118.48" x2="395.10" y2="118.48" stroke="#f040f0" stroke-width="0.7" />
<polygon points="394.10,113.68 396.30,115.88 394.10,118.08 391.90,115.88" fill="#fff" stroke="#f040f0" stroke-width="0.8"/>
<line x1="394.10" y1="67.08" x2="394.10" y2="73.88" stroke="#333" stroke-width="0.7" />
<line x1="393.10" y1="67.08" x2="395.10" y2="67.08" stroke="#333" stroke-width="0.7" />
<line x1="393.10" y1="73.88" x2="395.10" y2="73.88" stroke="#333" stroke-width="0.7" />
<rect x="392.45" y="68.83" width="3.3" height="3.3" fill="#fff" stroke="#333" stroke-width="0.85"/>
<line x1="394.10" y1="119.21" x2="394.10" y2="123.61" stroke="#333" stroke-width="0.7" />
<line x1="393.10" y1="119.21" x2="395.10" y2="119.21" stroke="#333" stroke-width="0.7" />
<line x1="393.10" y1="123.61" x2="395.10" y2="123.61" stroke="#333" stroke-width="0.7" />
<rect x="392.45" y="119.76" width="3.3" height="3.3" fill="#fff" stroke="#333" stroke-width="0.85"/>
<polygon points="411.38,83.44 413.78,85.84 411.38,88.24 408.98,85.84" fill="#1a3cf0" stroke="#2a8aa0" stroke-width="0.5"/>
<polygon points="411.38,116.50 413.78,118.90 411.38,121.30 408.98,118.90" fill="#1a3cf0" stroke="#2a8aa0" stroke-width="0.5"/>
<line x1="411.38" y1="76.51" x2="411.38" y2="81.71" stroke="#f040f0" stroke-width="0.7" />
<line x1="410.38" y1="76.51" x2="412.38" y2="76.51" stroke="#f040f0" stroke-width="0.7" />
<line x1="410.38" y1="81.71" x2="412.38" y2="81.71" stroke="#f040f0" stroke-width="0.7" />
<polygon points="411.38,76.91 413.58,79.11 411.38,81.31 409.18,79.11" fill="#fff" stroke="#f040f0" stroke-width="0.8"/>
<line x1="411.38" y1="114.06" x2="411.38" y2="119.26" stroke="#f040f0" stroke-width="0.7" />
<line x1="410.38" y1="114.06" x2="412.38" y2="114.06" stroke="#f040f0" stroke-width="0.7" />
<line x1="410.38" y1="119.26" x2="412.38" y2="119.26" stroke="#f040f0" stroke-width="0.7" />
<polygon points="411.38,114.46 413.58,116.66 411.38,118.86 409.18,116.66" fill="#fff" stroke="#f040f0" stroke-width="0.8"/>
<line x1="411.38" y1="63.01" x2="411.38" y2="69.81" stroke="#333" stroke-width="0.7" />
<line x1="410.38" y1="63.01" x2="412.38" y2="63.01" stroke="#333" stroke-width="0.7" />
<line x1="410.38" y1="69.81" x2="412.38" y2="69.81" stroke="#333" stroke-width="0.7" />
<rect x="409.73" y="64.76" width="3.3" height="3.3" fill="#fff" stroke="#333" stroke-width="0.85"/>
<line x1="411.38" y1="120.28" x2="411.38" y2="124.68" stroke="#333" stroke-width="0.7" />
<line x1="410.38" y1="120.28" x2="412.38" y2="120.28" stroke="#333" stroke-width="0.7" />
<line x1="410.38" y1="124.68" x2="412.38" y2="124.68" stroke="#333" stroke-width="0.7" />
<rect x="409.73" y="120.83" width="3.3" height="3.3" fill="#fff" stroke="#333" stroke-width="0.85"/>
<polygon points="428.66,80.87 431.06,83.27 428.66,85.67 426.26,83.27" fill="#1a3cf0" stroke="#2a8aa0" stroke-width="0.5"/>
<polygon points="428.66,117.01 431.06,119.41 428.66,121.81 426.26,119.41" fill="#1a3cf0" stroke="#2a8aa0" stroke-width="0.5"/>
<line x1="428.66" y1="73.82" x2="428.66" y2="79.02" stroke="#f040f0" stroke-width="0.7" />
<line x1="427.66" y1="73.82" x2="429.66" y2="73.82" stroke="#f040f0" stroke-width="0.7" />
<line x1="427.66" y1="79.02" x2="429.66" y2="79.02" stroke="#f040f0" stroke-width="0.7" />
<polygon points="428.66,74.22 430.86,76.42 428.66,78.62 426.46,76.42" fill="#fff" stroke="#f040f0" stroke-width="0.8"/>
<line x1="428.66" y1="114.71" x2="428.66" y2="119.91" stroke="#f040f0" stroke-width="0.7" />
<line x1="427.66" y1="114.71" x2="429.66" y2="114.71" stroke="#f040f0" stroke-width="0.7" />
<line x1="427.66" y1="119.91" x2="429.66" y2="119.91" stroke="#f040f0" stroke-width="0.7" />
<polygon points="428.66,115.11 430.86,117.31 428.66,119.51 426.46,117.31" fill="#fff" stroke="#f040f0" stroke-width="0.8"/>
<line x1="428.66" y1="59.52" x2="428.66" y2="66.32" stroke="#333" stroke-width="0.7" />
<line x1="427.66" y1="59.52" x2="429.66" y2="59.52" stroke="#333" stroke-width="0.7" />
<line x1="427.66" y1="66.32" x2="429.66" y2="66.32" stroke="#333" stroke-width="0.7" />
<rect x="427.01" y="61.27" width="3.3" height="3.3" fill="#fff" stroke="#333" stroke-width="0.85"/>
<line x1="428.66" y1="121.14" x2="428.66" y2="125.54" stroke="#333" stroke-width="0.7" />
<line x1="427.66" y1="121.14" x2="429.66" y2="121.14" stroke="#333" stroke-width="0.7" />
<line x1="427.66" y1="125.54" x2="429.66" y2="125.54" stroke="#333" stroke-width="0.7" />
<rect x="427.01" y="121.69" width="3.3" height="3.3" fill="#fff" stroke="#333" stroke-width="0.85"/>
<polygon points="445.94,78.67 448.34,81.07 445.94,83.47 443.54,81.07" fill="#1a3cf0" stroke="#2a8aa0" stroke-width="0.5"/>
<polygon points="445.94,117.52 448.34,119.92 445.94,122.32 443.54,119.92" fill="#1a3cf0" stroke="#2a8aa0" stroke-width="0.5"/>
<line x1="445.94" y1="71.29" x2="445.94" y2="76.49" stroke="#f040f0" stroke-width="0.7" />
<line x1="444.94" y1="71.29" x2="446.94" y2="71.29" stroke="#f040f0" stroke-width="0.7" />
<line x1="444.94" y1="76.49" x2="446.94" y2="76.49" stroke="#f040f0" stroke-width="0.7" />
<polygon points="445.94,71.69 448.14,73.89 445.94,76.09 443.74,73.89" fill="#fff" stroke="#f040f0" stroke-width="0.8"/>
<line x1="445.94" y1="115.34" x2="445.94" y2="120.54" stroke="#f040f0" stroke-width="0.7" />
<line x1="444.94" y1="115.34" x2="446.94" y2="115.34" stroke="#f040f0" stroke-width="0.7" />
<line x1="444.94" y1="120.54" x2="446.94" y2="120.54" stroke="#f040f0" stroke-width="0.7" />
<polygon points="445.94,115.74 448.14,117.94 445.94,120.14 443.74,117.94" fill="#fff" stroke="#f040f0" stroke-width="0.8"/>
<line x1="445.94" y1="57.19" x2="445.94" y2="63.99" stroke="#333" stroke-width="0.7" />
<line x1="444.94" y1="57.19" x2="446.94" y2="57.19" stroke="#333" stroke-width="0.7" />
<line x1="444.94" y1="63.99" x2="446.94" y2="63.99" stroke="#333" stroke-width="0.7" />
<rect x="444.29" y="58.94" width="3.3" height="3.3" fill="#fff" stroke="#333" stroke-width="0.85"/>
<line x1="445.94" y1="121.93" x2="445.94" y2="126.33" stroke="#333" stroke-width="0.7" />
<line x1="444.94" y1="121.93" x2="446.94" y2="121.93" stroke="#333" stroke-width="0.7" />
<line x1="444.94" y1="126.33" x2="446.94" y2="126.33" stroke="#333" stroke-width="0.7" />
<rect x="444.29" y="122.48" width="3.3" height="3.3" fill="#fff" stroke="#333" stroke-width="0.85"/>
<polygon points="463.22,76.73 465.62,79.13 463.22,81.53 460.82,79.13" fill="#1a3cf0" stroke="#2a8aa0" stroke-width="0.5"/>
<polygon points="463.22,117.99 465.62,120.39 463.22,122.79 460.82,120.39" fill="#1a3cf0" stroke="#2a8aa0" stroke-width="0.5"/>
<line x1="463.22" y1="68.91" x2="463.22" y2="74.11" stroke="#f040f0" stroke-width="0.7" />
<line x1="462.22" y1="68.91" x2="464.22" y2="68.91" stroke="#f040f0" stroke-width="0.7" />
<line x1="462.22" y1="74.11" x2="464.22" y2="74.11" stroke="#f040f0" stroke-width="0.7" />
<polygon points="463.22,69.31 465.42,71.51 463.22,73.71 461.02,71.51" fill="#fff" stroke="#f040f0" stroke-width="0.8"/>
<line x1="463.22" y1="115.93" x2="463.22" y2="121.13" stroke="#f040f0" stroke-width="0.7" />
<line x1="462.22" y1="115.93" x2="464.22" y2="115.93" stroke="#f040f0" stroke-width="0.7" />
<line x1="462.22" y1="121.13" x2="464.22" y2="121.13" stroke="#f040f0" stroke-width="0.7" />
<polygon points="463.22,116.33 465.42,118.53 463.22,120.73 461.02,118.53" fill="#fff" stroke="#f040f0" stroke-width="0.8"/>
<line x1="463.22" y1="54.86" x2="463.22" y2="61.66" stroke="#333" stroke-width="0.7" />
<line x1="462.22" y1="54.86" x2="464.22" y2="54.86" stroke="#333" stroke-width="0.7" />
<line x1="462.22" y1="61.66" x2="464.22" y2="61.66" stroke="#333" stroke-width="0.7" />
<rect x="461.57" y="56.61" width="3.3" height="3.3" fill="#fff" stroke="#333" stroke-width="0.85"/>
<line x1="463.22" y1="122.65" x2="463.22" y2="127.05" stroke="#333" stroke-width="0.7" />
<line x1="462.22" y1="122.65" x2="464.22" y2="122.65" stroke="#333" stroke-width="0.7" />
<line x1="462.22" y1="127.05" x2="464.22" y2="127.05" stroke="#333" stroke-width="0.7" />
<rect x="461.57" y="123.20" width="3.3" height="3.3" fill="#fff" stroke="#333" stroke-width="0.85"/>
<polygon points="480.50,75.07 482.90,77.47 480.50,79.87 478.10,77.47" fill="#1a3cf0" stroke="#2a8aa0" stroke-width="0.5"/>
<polygon points="480.50,118.42 482.90,120.83 480.50,123.23 478.10,120.83" fill="#1a3cf0" stroke="#2a8aa0" stroke-width="0.5"/>
<line x1="480.50" y1="66.72" x2="480.50" y2="71.92" stroke="#f040f0" stroke-width="0.7" />
<line x1="479.50" y1="66.72" x2="481.50" y2="66.72" stroke="#f040f0" stroke-width="0.7" />
<line x1="479.50" y1="71.92" x2="481.50" y2="71.92" stroke="#f040f0" stroke-width="0.7" />
<polygon points="480.50,67.12 482.70,69.32 480.50,71.52 478.30,69.32" fill="#fff" stroke="#f040f0" stroke-width="0.8"/>
<line x1="480.50" y1="116.48" x2="480.50" y2="121.68" stroke="#f040f0" stroke-width="0.7" />
<line x1="479.50" y1="116.48" x2="481.50" y2="116.48" stroke="#f040f0" stroke-width="0.7" />
<line x1="479.50" y1="121.68" x2="481.50" y2="121.68" stroke="#f040f0" stroke-width="0.7" />
<polygon points="480.50,116.88 482.70,119.08 480.50,121.28 478.30,119.08" fill="#fff" stroke="#f040f0" stroke-width="0.8"/>
<line x1="480.50" y1="53.11" x2="480.50" y2="59.91" stroke="#333" stroke-width="0.7" />
<line x1="479.50" y1="53.11" x2="481.50" y2="53.11" stroke="#333" stroke-width="0.7" />
<line x1="479.50" y1="59.91" x2="481.50" y2="59.91" stroke="#333" stroke-width="0.7" />
<rect x="478.85" y="54.86" width="3.3" height="3.3" fill="#fff" stroke="#333" stroke-width="0.85"/>
<line x1="480.50" y1="123.28" x2="480.50" y2="127.68" stroke="#333" stroke-width="0.7" />
<line x1="479.50" y1="123.28" x2="481.50" y2="123.28" stroke="#333" stroke-width="0.7" />
<line x1="479.50" y1="127.68" x2="481.50" y2="127.68" stroke="#333" stroke-width="0.7" />
<rect x="478.85" y="123.83" width="3.3" height="3.3" fill="#fff" stroke="#333" stroke-width="0.85"/>
<line x1="321.78" y1="91.78" x2="321.78" y2="102.84" stroke="#f06060" stroke-width="0.7" />
<line x1="320.58" y1="91.78" x2="322.98" y2="91.78" stroke="#f06060" stroke-width="0.7" />
<line x1="320.58" y1="102.84" x2="322.98" y2="102.84" stroke="#f06060" stroke-width="0.7" />
<circle cx="321.78" cy="97.31" r="2.1" fill="#f01818" stroke="#f01818" stroke-width="0"/>
<line x1="325.41" y1="89.22" x2="325.41" y2="102.61" stroke="#f06060" stroke-width="0.7" />
<line x1="324.21" y1="89.22" x2="326.61" y2="89.22" stroke="#f06060" stroke-width="0.7" />
<line x1="324.21" y1="102.61" x2="326.61" y2="102.61" stroke="#f06060" stroke-width="0.7" />
<circle cx="325.41" cy="95.92" r="2.1" fill="#f01818" stroke="#f01818" stroke-width="0"/>
<line x1="334.05" y1="84.57" x2="334.05" y2="96.21" stroke="#f06060" stroke-width="0.7" />
<line x1="332.85" y1="84.57" x2="335.25" y2="84.57" stroke="#f06060" stroke-width="0.7" />
<line x1="332.85" y1="96.21" x2="335.25" y2="96.21" stroke="#f06060" stroke-width="0.7" />
<circle cx="334.05" cy="90.39" r="2.1" fill="#f01818" stroke="#f01818" stroke-width="0"/>
<line x1="340.19" y1="79.74" x2="340.19" y2="93.12" stroke="#f06060" stroke-width="0.7" />
<line x1="338.99" y1="79.74" x2="341.39" y2="79.74" stroke="#f06060" stroke-width="0.7" />
<line x1="338.99" y1="93.12" x2="341.39" y2="93.12" stroke="#f06060" stroke-width="0.7" />
<circle cx="340.19" cy="86.43" r="2.1" fill="#f01818" stroke="#f01818" stroke-width="0"/>
<line x1="348.48" y1="75.72" x2="348.48" y2="88.52" stroke="#f06060" stroke-width="0.7" />
<line x1="347.28" y1="75.72" x2="349.68" y2="75.72" stroke="#f06060" stroke-width="0.7" />
<line x1="347.28" y1="88.52" x2="349.68" y2="88.52" stroke="#f06060" stroke-width="0.7" />
<circle cx="348.48" cy="82.12" r="2.1" fill="#f01818" stroke="#f01818" stroke-width="0"/>
<line x1="366.02" y1="69.32" x2="366.02" y2="84.45" stroke="#f06060" stroke-width="0.7" />
<line x1="364.82" y1="69.32" x2="367.22" y2="69.32" stroke="#f06060" stroke-width="0.7" />
<line x1="364.82" y1="84.45" x2="367.22" y2="84.45" stroke="#f06060" stroke-width="0.7" />
<circle cx="366.02" cy="76.88" r="2.1" fill="#f01818" stroke="#f01818" stroke-width="0"/>
<line x1="383.73" y1="63.79" x2="383.73" y2="78.34" stroke="#f06060" stroke-width="0.7" />
<line x1="382.53" y1="63.79" x2="384.93" y2="63.79" stroke="#f06060" stroke-width="0.7" />
<line x1="382.53" y1="78.34" x2="384.93" y2="78.34" stroke="#f06060" stroke-width="0.7" />
<circle cx="383.73" cy="71.06" r="2.1" fill="#f01818" stroke="#f01818" stroke-width="0"/>
<line x1="401.01" y1="58.55" x2="401.01" y2="76.59" stroke="#f06060" stroke-width="0.7" />
<line x1="399.81" y1="58.55" x2="402.21" y2="58.55" stroke="#f06060" stroke-width="0.7" />
<line x1="399.81" y1="76.59" x2="402.21" y2="76.59" stroke="#f06060" stroke-width="0.7" />
<circle cx="401.01" cy="67.57" r="2.1" fill="#f01818" stroke="#f01818" stroke-width="0"/>
<line x1="420.02" y1="57.10" x2="420.02" y2="68.74" stroke="#f06060" stroke-width="0.7" />
<line x1="418.82" y1="57.10" x2="421.22" y2="57.10" stroke="#f06060" stroke-width="0.7" />
<line x1="418.82" y1="68.74" x2="421.22" y2="68.74" stroke="#f06060" stroke-width="0.7" />
<circle cx="420.02" cy="62.92" r="2.1" fill="#f01818" stroke="#f01818" stroke-width="0"/>
<line x1="437.82" y1="53.31" x2="437.82" y2="67.86" stroke="#f06060" stroke-width="0.7" />
<line x1="436.62" y1="53.31" x2="439.02" y2="53.31" stroke="#f06060" stroke-width="0.7" />
<line x1="436.62" y1="67.86" x2="439.02" y2="67.86" stroke="#f06060" stroke-width="0.7" />
<circle cx="437.82" cy="60.59" r="2.1" fill="#f01818" stroke="#f01818" stroke-width="0"/>
<line x1="457.60" y1="46.21" x2="457.60" y2="66.82" stroke="#f06060" stroke-width="0.7" />
<line x1="456.40" y1="46.21" x2="458.80" y2="46.21" stroke="#f06060" stroke-width="0.7" />
<line x1="456.40" y1="66.82" x2="458.80" y2="66.82" stroke="#f06060" stroke-width="0.7" />
<circle cx="457.60" cy="56.51" r="2.1" fill="#f01818" stroke="#f01818" stroke-width="0"/>
<line x1="474.88" y1="46.33" x2="474.88" y2="66.70" stroke="#f06060" stroke-width="0.7" />
<line x1="473.68" y1="46.33" x2="476.08" y2="46.33" stroke="#f06060" stroke-width="0.7" />
<line x1="473.68" y1="66.70" x2="476.08" y2="66.70" stroke="#f06060" stroke-width="0.7" />
<circle cx="474.88" cy="56.51" r="2.1" fill="#f01818" stroke="#f01818" stroke-width="0"/>
<line x1="321.78" y1="112.56" x2="321.78" y2="118.38" stroke="#f06060" stroke-width="0.7" />
<line x1="320.58" y1="112.56" x2="322.98" y2="112.56" stroke="#f06060" stroke-width="0.7" />
<line x1="320.58" y1="118.38" x2="322.98" y2="118.38" stroke="#f06060" stroke-width="0.7" />
<circle cx="321.78" cy="115.47" r="2.1" fill="#f01818" stroke="#f01818" stroke-width="0"/>
<line x1="325.41" y1="112.56" x2="325.41" y2="118.38" stroke="#f06060" stroke-width="0.7" />
<line x1="324.21" y1="112.56" x2="326.61" y2="112.56" stroke="#f06060" stroke-width="0.7" />
<line x1="324.21" y1="118.38" x2="326.61" y2="118.38" stroke="#f06060" stroke-width="0.7" />
<circle cx="325.41" cy="115.47" r="2.1" fill="#f01818" stroke="#f01818" stroke-width="0"/>
<line x1="334.05" y1="115.18" x2="334.05" y2="121.00" stroke="#f06060" stroke-width="0.7" />
<line x1="332.85" y1="115.18" x2="335.25" y2="115.18" stroke="#f06060" stroke-width="0.7" />
<line x1="332.85" y1="121.00" x2="335.25" y2="121.00" stroke="#f06060" stroke-width="0.7" />
<circle cx="334.05" cy="118.09" r="2.1" fill="#f01818" stroke="#f01818" stroke-width="0"/>
<line x1="340.19" y1="117.16" x2="340.19" y2="122.98" stroke="#f06060" stroke-width="0.7" />
<line x1="338.99" y1="117.16" x2="341.39" y2="117.16" stroke="#f06060" stroke-width="0.7" />
<line x1="338.99" y1="122.98" x2="341.39" y2="122.98" stroke="#f06060" stroke-width="0.7" />
<circle cx="340.19" cy="120.07" r="2.1" fill="#f01818" stroke="#f01818" stroke-width="0"/>
<line x1="348.48" y1="119.20" x2="348.48" y2="126.18" stroke="#f06060" stroke-width="0.7" />
<line x1="347.28" y1="119.20" x2="349.68" y2="119.20" stroke="#f06060" stroke-width="0.7" />
<line x1="347.28" y1="126.18" x2="349.68" y2="126.18" stroke="#f06060" stroke-width="0.7" />
<circle cx="348.48" cy="122.69" r="2.1" fill="#f01818" stroke="#f01818" stroke-width="0"/>
<line x1="366.02" y1="121.12" x2="366.02" y2="128.10" stroke="#f06060" stroke-width="0.7" />
<line x1="364.82" y1="121.12" x2="367.22" y2="121.12" stroke="#f06060" stroke-width="0.7" />
<line x1="364.82" y1="128.10" x2="367.22" y2="128.10" stroke="#f06060" stroke-width="0.7" />
<circle cx="366.02" cy="124.61" r="2.1" fill="#f01818" stroke="#f01818" stroke-width="0"/>
<line x1="383.73" y1="121.12" x2="383.73" y2="128.10" stroke="#f06060" stroke-width="0.7" />
<line x1="382.53" y1="121.12" x2="384.93" y2="121.12" stroke="#f06060" stroke-width="0.7" />
<line x1="382.53" y1="128.10" x2="384.93" y2="128.10" stroke="#f06060" stroke-width="0.7" />
<circle cx="383.73" cy="124.61" r="2.1" fill="#f01818" stroke="#f01818" stroke-width="0"/>
<line x1="401.01" y1="121.41" x2="401.01" y2="128.39" stroke="#f06060" stroke-width="0.7" />
<line x1="399.81" y1="121.41" x2="402.21" y2="121.41" stroke="#f06060" stroke-width="0.7" />
<line x1="399.81" y1="128.39" x2="402.21" y2="128.39" stroke="#f06060" stroke-width="0.7" />
<circle cx="401.01" cy="124.90" r="2.1" fill="#f01818" stroke="#f01818" stroke-width="0"/>
<line x1="420.02" y1="121.41" x2="420.02" y2="128.39" stroke="#f06060" stroke-width="0.7" />
<line x1="418.82" y1="121.41" x2="421.22" y2="121.41" stroke="#f06060" stroke-width="0.7" />
<line x1="418.82" y1="128.39" x2="421.22" y2="128.39" stroke="#f06060" stroke-width="0.7" />
<circle cx="420.02" cy="124.90" r="2.1" fill="#f01818" stroke="#f01818" stroke-width="0"/>
<line x1="437.82" y1="122.86" x2="437.82" y2="129.85" stroke="#f06060" stroke-width="0.7" />
<line x1="436.62" y1="122.86" x2="439.02" y2="122.86" stroke="#f06060" stroke-width="0.7" />
<line x1="436.62" y1="129.85" x2="439.02" y2="129.85" stroke="#f06060" stroke-width="0.7" />
<circle cx="437.82" cy="126.35" r="2.1" fill="#f01818" stroke="#f01818" stroke-width="0"/>
<line x1="457.60" y1="121.41" x2="457.60" y2="128.39" stroke="#f06060" stroke-width="0.7" />
<line x1="456.40" y1="121.41" x2="458.80" y2="121.41" stroke="#f06060" stroke-width="0.7" />
<line x1="456.40" y1="128.39" x2="458.80" y2="128.39" stroke="#f06060" stroke-width="0.7" />
<circle cx="457.60" cy="124.90" r="2.1" fill="#f01818" stroke="#f01818" stroke-width="0"/>
<line x1="474.88" y1="122.86" x2="474.88" y2="129.85" stroke="#f06060" stroke-width="0.7" />
<line x1="473.68" y1="122.86" x2="476.08" y2="122.86" stroke="#f06060" stroke-width="0.7" />
<line x1="473.68" y1="129.85" x2="476.08" y2="129.85" stroke="#f06060" stroke-width="0.7" />
<circle cx="474.88" cy="126.35" r="2.1" fill="#f01818" stroke="#f01818" stroke-width="0"/>
<circle cx="321.00" cy="19.10" r="2.1" fill="#f01818" stroke="#f01818" stroke-width="0"/>
<text x="330.80" y="21.40" font-size="6.85" text-anchor="start" font-family='"Liberation Serif", serif' fill="#222" stroke="#222" stroke-width="0.09" >Experiments of normal RBC (Suresh <tspan font-style="italic">et al</tspan>, 2005)</text>
<line x1="313.20" y1="27.60" x2="328.60" y2="27.60" stroke="#444" stroke-width="1.2" />
<line x1="321.00" y1="26.00" x2="321.00" y2="29.20" stroke="#444" stroke-width="0.7" />
<line x1="320.10" y1="26.00" x2="321.90" y2="26.00" stroke="#444" stroke-width="0.7" />
<line x1="320.10" y1="29.20" x2="321.90" y2="29.20" stroke="#444" stroke-width="0.7" />
<rect x="319.30" y="25.90" width="3.4" height="3.4" fill="#fff" stroke="#444" stroke-width="0.9"/>
<text x="330.80" y="29.80" font-size="6.85" text-anchor="start" font-family='"Liberation Serif", serif' fill="#222" stroke="#222" stroke-width="0.09" >N-RBC</text>
<line x1="313.20" y1="36.00" x2="328.60" y2="36.00" stroke="#f040f0" stroke-width="1.2" />
<polygon points="321.00,33.50 323.50,36.00 321.00,38.50 318.50,36.00" fill="#fff" stroke="#f040f0" stroke-width="0.9"/>
<text x="330.80" y="38.20" font-size="6.85" text-anchor="start" font-family='"Liberation Serif", serif' fill="#222" stroke="#222" stroke-width="0.09" >D-RBC1</text>
<line x1="356.80" y1="36.00" x2="372.60" y2="36.00" stroke="#2a9a90" stroke-width="1.2" />
<polygon points="362.80,37.67 367.20,37.67 365.00,33.86" fill="#fff" stroke="#2a9a90" stroke-width="0.9" stroke-linejoin="miter"/>
<text x="373.70" y="38.20" font-size="6.85" text-anchor="start" font-family='"Liberation Serif", serif' fill="#222" stroke="#222" stroke-width="0.09" >D-RBC2</text>
<line x1="400.00" y1="36.00" x2="415.30" y2="36.00" stroke="#1a3cf0" stroke-width="1.2" />
<polygon points="405.80,34.33 410.20,34.33 408.00,38.14" fill="#1a3cf0" stroke="#1a3cf0" stroke-width="0.6" stroke-linejoin="miter"/>
<text x="417.20" y="38.20" font-size="6.85" text-anchor="start" font-family='"Liberation Serif", serif' fill="#222" stroke="#222" stroke-width="0.09" >D-RBC3</text>
<text x="460.20" y="40.90" font-size="8.5" text-anchor="start" font-family='"Liberation Serif", serif' fill="#222" stroke="#222" stroke-width="0.22" ><tspan font-style="italic">D</tspan><tspan font-size="5.5" dy="1.5">A</tspan></text>
<text x="463.80" y="108.20" font-size="8.5" text-anchor="start" font-family='"Liberation Serif", serif' fill="#222" stroke="#222" stroke-width="0.22" ><tspan font-style="italic">D</tspan><tspan font-size="5.5" dy="1.5">T</tspan></text>
<path d="M487.60,21.50 C496.42,13.02 503.77,10.90 517.00,10.90 C530.23,10.90 537.58,13.02 546.40,21.50 C537.58,29.98 530.23,32.10 517.00,32.10 C503.77,32.10 496.42,29.98 487.60,21.50 Z" fill="url(#rbcB)"/>
<path d="M487.60,21.50 C496.42,13.02 503.77,10.90 517.00,10.90 C530.23,10.90 537.58,13.02 546.40,21.50 C537.58,29.98 530.23,32.10 517.00,32.10 C503.77,32.10 496.42,29.98 487.60,21.50 Z" fill="url(#meshB)"/>
<path d="M492.10,58.20 C495.06,48.17 504.45,46.40 516.80,46.40 C529.15,46.40 538.54,48.17 541.50,58.20 C538.54,68.40 529.15,70.20 516.80,70.20 C504.45,70.20 495.06,68.40 492.10,58.20 Z" fill="url(#rbcB)"/>
<path d="M492.10,58.20 C495.06,48.17 504.45,46.40 516.80,46.40 C529.15,46.40 538.54,48.17 541.50,58.20 C538.54,68.40 529.15,70.20 516.80,70.20 C504.45,70.20 495.06,68.40 492.10,58.20 Z" fill="url(#meshB)"/>
<path d="M494.00,97.00 C499.23,88.30 509.44,85.40 517.75,85.40 C526.06,85.40 536.27,88.30 541.50,97.00 C536.27,105.62 526.06,108.50 517.75,108.50 C509.44,108.50 499.23,105.62 494.00,97.00 Z" fill="url(#rbcB)"/>
<path d="M494.00,97.00 C499.23,88.30 509.44,85.40 517.75,85.40 C526.06,85.40 536.27,88.30 541.50,97.00 C536.27,105.62 526.06,108.50 517.75,108.50 C509.44,108.50 499.23,105.62 494.00,97.00 Z" fill="url(#meshB)"/>
<path d="M495.30,134.00 C500.38,125.53 510.31,122.70 518.40,122.70 C526.49,122.70 536.42,125.53 541.50,134.00 C536.42,142.40 526.49,145.20 518.40,145.20 C510.31,145.20 500.38,142.40 495.30,134.00 Z" fill="url(#rbcB)"/>
<path d="M495.30,134.00 C500.38,125.53 510.31,122.70 518.40,122.70 C526.49,122.70 536.42,125.53 541.50,134.00 C536.42,142.40 526.49,145.20 518.40,145.20 C510.31,145.20 500.38,142.40 495.30,134.00 Z" fill="url(#meshB)"/>
<ellipse cx="516" cy="58.5" rx="14" ry="4" fill="#b83460" opacity="0.35"/>
<text x="516.80" y="41.70" font-size="6.94" text-anchor="middle" font-family='"Liberation Serif", serif' fill="#222" stroke="#222" stroke-width="0.09" >N-RBC</text>
<text x="518.00" y="79.20" font-size="6.86" text-anchor="middle" font-family='"Liberation Serif", serif' fill="#222" stroke="#222" stroke-width="0.09" >D-RBC1</text>
<text x="518.20" y="118.50" font-size="6.86" text-anchor="middle" font-family='"Liberation Serif", serif' fill="#222" stroke="#222" stroke-width="0.09" >D-RBC2</text>
<text x="518.20" y="154.20" font-size="6.86" text-anchor="middle" font-family='"Liberation Serif", serif' fill="#222" stroke="#222" stroke-width="0.09" >D-RBC3</text>
<rect x="33.60" y="168.10" width="208.70" height="153.90" fill="none" stroke="#000" stroke-width="1.25"/>
<line x1="33.60" y1="287.80" x2="37.40" y2="287.80" stroke="#000" stroke-width="1.15" />
<line x1="242.30" y1="287.80" x2="238.50" y2="287.80" stroke="#000" stroke-width="1.15" />
<line x1="33.60" y1="253.60" x2="37.40" y2="253.60" stroke="#000" stroke-width="1.15" />
<line x1="242.30" y1="253.60" x2="238.50" y2="253.60" stroke="#000" stroke-width="1.15" />
<line x1="33.60" y1="219.40" x2="37.40" y2="219.40" stroke="#000" stroke-width="1.15" />
<line x1="242.30" y1="219.40" x2="238.50" y2="219.40" stroke="#000" stroke-width="1.15" />
<line x1="33.60" y1="185.20" x2="37.40" y2="185.20" stroke="#000" stroke-width="1.15" />
<line x1="242.30" y1="185.20" x2="238.50" y2="185.20" stroke="#000" stroke-width="1.15" />
<line x1="33.60" y1="304.90" x2="35.60" y2="304.90" stroke="#000" stroke-width="1" />
<line x1="242.30" y1="304.90" x2="240.30" y2="304.90" stroke="#000" stroke-width="1" />
<line x1="33.60" y1="270.70" x2="35.60" y2="270.70" stroke="#000" stroke-width="1" />
<line x1="242.30" y1="270.70" x2="240.30" y2="270.70" stroke="#000" stroke-width="1" />
<line x1="33.60" y1="236.50" x2="35.60" y2="236.50" stroke="#000" stroke-width="1" />
<line x1="242.30" y1="236.50" x2="240.30" y2="236.50" stroke="#000" stroke-width="1" />
<line x1="33.60" y1="202.30" x2="35.60" y2="202.30" stroke="#000" stroke-width="1" />
<line x1="242.30" y1="202.30" x2="240.30" y2="202.30" stroke="#000" stroke-width="1" />
<line x1="79.90" y1="322.00" x2="79.90" y2="318.20" stroke="#000" stroke-width="1.15" />
<line x1="79.90" y1="168.10" x2="79.90" y2="171.90" stroke="#000" stroke-width="1.15" />
<line x1="126.20" y1="322.00" x2="126.20" y2="318.20" stroke="#000" stroke-width="1.15" />
<line x1="126.20" y1="168.10" x2="126.20" y2="171.90" stroke="#000" stroke-width="1.15" />
<line x1="172.50" y1="322.00" x2="172.50" y2="318.20" stroke="#000" stroke-width="1.15" />
<line x1="172.50" y1="168.10" x2="172.50" y2="171.90" stroke="#000" stroke-width="1.15" />
<line x1="218.80" y1="322.00" x2="218.80" y2="318.20" stroke="#000" stroke-width="1.15" />
<line x1="218.80" y1="168.10" x2="218.80" y2="171.90" stroke="#000" stroke-width="1.15" />
<line x1="56.75" y1="322.00" x2="56.75" y2="320.00" stroke="#000" stroke-width="1" />
<line x1="56.75" y1="168.10" x2="56.75" y2="170.10" stroke="#000" stroke-width="1" />
<line x1="103.05" y1="322.00" x2="103.05" y2="320.00" stroke="#000" stroke-width="1" />
<line x1="103.05" y1="168.10" x2="103.05" y2="170.10" stroke="#000" stroke-width="1" />
<line x1="149.35" y1="322.00" x2="149.35" y2="320.00" stroke="#000" stroke-width="1" />
<line x1="149.35" y1="168.10" x2="149.35" y2="170.10" stroke="#000" stroke-width="1" />
<line x1="195.65" y1="322.00" x2="195.65" y2="320.00" stroke="#000" stroke-width="1" />
<line x1="195.65" y1="168.10" x2="195.65" y2="170.10" stroke="#000" stroke-width="1" />
<text x="29.20" y="324.60" font-size="7.6" text-anchor="end" font-family='"Liberation Serif", serif' fill="#222" stroke="#222" stroke-width="0.15" >0.0</text>
<text x="29.20" y="290.40" font-size="7.6" text-anchor="end" font-family='"Liberation Serif", serif' fill="#222" stroke="#222" stroke-width="0.15" >0.4</text>
<text x="29.20" y="256.20" font-size="7.6" text-anchor="end" font-family='"Liberation Serif", serif' fill="#222" stroke="#222" stroke-width="0.15" >0.8</text>
<text x="29.20" y="222.00" font-size="7.6" text-anchor="end" font-family='"Liberation Serif", serif' fill="#222" stroke="#222" stroke-width="0.15" >1.2</text>
<text x="29.20" y="187.80" font-size="7.6" text-anchor="end" font-family='"Liberation Serif", serif' fill="#222" stroke="#222" stroke-width="0.15" >1.6</text>
<text x="33.60" y="332.80" font-size="7.6" text-anchor="middle" font-family='"Liberation Serif", serif' fill="#222" stroke="#222" stroke-width="0.15" >0.0</text>
<text x="79.90" y="332.80" font-size="7.6" text-anchor="middle" font-family='"Liberation Serif", serif' fill="#222" stroke="#222" stroke-width="0.15" >0.4</text>
<text x="126.20" y="332.80" font-size="7.6" text-anchor="middle" font-family='"Liberation Serif", serif' fill="#222" stroke="#222" stroke-width="0.15" >0.8</text>
<text x="172.50" y="332.80" font-size="7.6" text-anchor="middle" font-family='"Liberation Serif", serif' fill="#222" stroke="#222" stroke-width="0.15" >1.2</text>
<text x="218.80" y="332.80" font-size="7.6" text-anchor="middle" font-family='"Liberation Serif", serif' fill="#222" stroke="#222" stroke-width="0.15" >1.6</text>
<text x="10.60" y="249.50" font-size="8.5" text-anchor="middle" font-family='"Liberation Serif", serif' fill="#222" stroke="#222" stroke-width="0.22" transform="rotate(-90 10.6 249.5)"><tspan font-style="italic">v</tspan><tspan font-size="5.5" dy="-3">*</tspan></text>
<text x="137.00" y="345.80" font-size="8.5" text-anchor="middle" font-family='"Liberation Serif", serif' fill="#222" stroke="#222" stroke-width="0.22" >Δ<tspan font-style="italic">P</tspan><tspan font-size="5.5" dy="-3">*</tspan></text>
<polygon points="117.8,271.4 144.3,271.4 158.5,280.7 191.6,280.7 207,271.4 235.3,271.4 235.3,299.1 207,299.1 191.6,290.1 158.5,290.1 144.3,299.1 117.8,299.1" fill="url(#speck)" stroke="#707070" stroke-width="0.9"/>
<path d="M149.8,286 C149.5,282 152.5,280.6 156,280.9 C159,281.2 160.6,283.5 160.3,285.5 C160,288 157.5,289.8 154.5,289.6 C151.5,289.4 150,288 149.8,286 Z" fill="#e2668a"/>
<line x1="158.70" y1="294.20" x2="191.60" y2="294.20" stroke="#111" stroke-width="0.7" />
<line x1="158.70" y1="291.00" x2="158.70" y2="297.50" stroke="#111" stroke-width="0.6" />
<line x1="191.60" y1="291.00" x2="191.60" y2="297.50" stroke="#111" stroke-width="0.6" />
<polygon points="158.7,294.2 161.5,293 161.5,295.4" fill="#111"/><polygon points="191.6,294.2 188.8,293 188.8,295.4" fill="#111"/>
<text x="175.10" y="301.00" font-size="5.8" text-anchor="middle" font-family='"Liberation Serif", serif' fill="#222" stroke="#222" stroke-width="0.09" >30 µm</text>
<line x1="170.10" y1="271.20" x2="170.10" y2="258.50" stroke="#111" stroke-width="0.6" />
<line x1="170.10" y1="271.20" x2="187.00" y2="271.20" stroke="#111" stroke-width="0.6" />
<line x1="170.10" y1="271.20" x2="164.50" y2="276.50" stroke="#111" stroke-width="0.6" />
<rect x="167.6" y="265.7" width="15" height="6.2" fill="none" stroke="#555" stroke-width="0.4"/>
<rect x="174.5" y="265.7" width="1.9" height="7.3" fill="#5aa0e0"/>
<text x="165.60" y="262.30" font-size="5.8" text-anchor="middle" font-family='"Liberation Serif", serif' fill="#222" stroke="#222" stroke-width="0.09" >y</text>
<text x="177.00" y="263.30" font-size="5.8" text-anchor="start" font-family='"Liberation Serif", serif' fill="#222" stroke="#222" stroke-width="0.09" >2.7 µm</text>
<line x1="172.30" y1="265.20" x2="176.20" y2="261.60" stroke="#333" stroke-width="0.45" />
<text x="153.50" y="271.80" font-size="5.8" text-anchor="start" font-family='"Liberation Serif", serif' fill="#222" stroke="#222" stroke-width="0.09" >6 µm</text>
<text x="191.60" y="273.60" font-size="5.8" text-anchor="middle" font-family='"Liberation Serif", serif' fill="#222" stroke="#222" stroke-width="0.09" >x</text>
<text x="160.80" y="278.60" font-size="5.8" text-anchor="middle" font-family='"Liberation Serif", serif' fill="#222" stroke="#222" stroke-width="0.09" >z</text>
<line x1="84.18" y1="289.08" x2="186.00" y2="205.60" stroke="#f03030" stroke-width="1.2" stroke-dasharray="2.4,1.6"/>
<line x1="120.00" y1="315.20" x2="207.00" y2="308.60" stroke="#2050f0" stroke-width="1.3" stroke-dasharray="1.3,1.4"/>
<line x1="60.40" y1="301.80" x2="60.40" y2="305.80" stroke="#f03030" stroke-width="0.8" />
<circle cx="60.40" cy="303.70" r="2.8" fill="none" stroke="#f02020" stroke-width="1.0"/>
<line x1="79.00" y1="284.00" x2="79.00" y2="289.80" stroke="#f03030" stroke-width="0.8" />
<line x1="76.80" y1="284.00" x2="81.20" y2="284.00" stroke="#f03030" stroke-width="0.8" />
<line x1="76.80" y1="289.80" x2="81.20" y2="289.80" stroke="#f03030" stroke-width="0.8" />
<circle cx="79.00" cy="286.90" r="2.8" fill="none" stroke="#f02020" stroke-width="1.0"/>
<line x1="129.90" y1="245.00" x2="129.90" y2="256.60" stroke="#f03030" stroke-width="0.8" />
<line x1="127.70" y1="245.00" x2="132.10" y2="245.00" stroke="#f03030" stroke-width="0.8" />
<line x1="127.70" y1="256.60" x2="132.10" y2="256.60" stroke="#f03030" stroke-width="0.8" />
<circle cx="129.90" cy="250.80" r="2.8" fill="none" stroke="#f02020" stroke-width="1.0"/>
<line x1="172.40" y1="217.60" x2="172.40" y2="240.40" stroke="#f03030" stroke-width="0.8" />
<line x1="170.20" y1="217.60" x2="174.60" y2="217.60" stroke="#f03030" stroke-width="0.8" />
<line x1="170.20" y1="240.40" x2="174.60" y2="240.40" stroke="#f03030" stroke-width="0.8" />
<circle cx="172.40" cy="229.00" r="2.8" fill="none" stroke="#f02020" stroke-width="1.0"/>
<circle cx="84.20" cy="289.00" r="2.9" fill="#f01818" stroke="#f01818" stroke-width="0"/>
<circle cx="134.90" cy="248.50" r="2.9" fill="#f01818" stroke="#f01818" stroke-width="0"/>
<circle cx="186.00" cy="205.60" r="2.9" fill="#f01818" stroke="#f01818" stroke-width="0"/>
<rect x="100.70" y="277.50" width="4.6" height="4.6" fill="none" stroke="#222" stroke-width="1.0"/>
<rect x="118.10" y="259.50" width="4.6" height="4.6" fill="none" stroke="#222" stroke-width="1.0"/>
<rect x="145.90" y="234.10" width="4.6" height="4.6" fill="none" stroke="#222" stroke-width="1.0"/>
<rect x="170.10" y="208.70" width="4.6" height="4.6" fill="none" stroke="#222" stroke-width="1.0"/>
<polygon points="116.80,312.50 123.20,312.50 120.00,317.90" fill="#1a3cf0"/>
<polygon points="145.80,308.30 152.20,308.30 149.00,313.70" fill="#1a3cf0"/>
<polygon points="175.40,307.50 181.80,307.50 178.60,312.90" fill="#1a3cf0"/>
<polygon points="203.80,305.90 210.20,305.90 207.00,311.30" fill="#1a3cf0"/>
<circle cx="49.60" cy="179.40" r="2.8" fill="none" stroke="#f02020" stroke-width="1.0"/>
<text x="60.40" y="181.70" font-size="7.5" text-anchor="start" font-family='"Liberation Serif", serif' fill="#222" stroke="#222" stroke-width="0.15" >Experiments</text>
<circle cx="107.00" cy="179.40" r="2.9" fill="#f01818" stroke="#f01818" stroke-width="0"/>
<text x="117.00" y="181.70" font-size="7.5" text-anchor="start" font-family='"Liberation Serif", serif' fill="#222" stroke="#222" stroke-width="0.15" >Simulations (Quinn <tspan font-style="italic">et al</tspan>, 2011)</text>
<rect x="47.30" y="186.10" width="4.6" height="4.6" fill="none" stroke="#222" stroke-width="1.0"/>
<text x="60.40" y="190.70" font-size="7.5" text-anchor="start" font-family='"Liberation Serif", serif' fill="#222" stroke="#222" stroke-width="0.15" >N-RBC</text>
<polygon points="46.40,194.90 52.80,194.90 49.60,200.30" fill="#1a3cf0"/>
<text x="60.40" y="199.90" font-size="7.5" text-anchor="start" font-family='"Liberation Serif", serif' fill="#222" stroke="#222" stroke-width="0.15" >D-RBC3</text>
<ellipse cx="313.5" cy="225.9" rx="30.8" ry="9.0" transform="rotate(-10 313.5 225.9)" fill="url(#meshD)" stroke="#ee4a74" stroke-width="1.2"/>
<line x1="312.90" y1="248.50" x2="312.90" y2="201.00" stroke="#111" stroke-width="0.7" />
<line x1="281.90" y1="227.00" x2="349.50" y2="227.00" stroke="#111" stroke-width="0.6" />
<polygon points="351.5,227.0 348.8,225.9 348.8,228.1" fill="#111"/>
<line x1="302.60" y1="248.20" x2="325.70" y2="207.00" stroke="#111" stroke-width="0.6" />
<line x1="312.90" y1="207.90" x2="325.20" y2="207.90" stroke="#333" stroke-width="0.45" />
<polygon points="325.20,207.90 323.60,207.20 323.60,208.60" fill="#333"/>
<line x1="312.90" y1="212.20" x2="322.78" y2="212.20" stroke="#333" stroke-width="0.45" />
<polygon points="322.78,212.20 321.18,211.50 321.18,212.90" fill="#333"/>
<line x1="312.90" y1="216.40" x2="320.43" y2="216.40" stroke="#333" stroke-width="0.45" />
<polygon points="320.43,216.40 318.83,215.70 318.83,217.10" fill="#333"/>
<line x1="312.90" y1="221.60" x2="317.51" y2="221.60" stroke="#333" stroke-width="0.45" />
<polygon points="317.51,221.60 315.91,220.90 315.91,222.30" fill="#333"/>
<line x1="312.90" y1="233.60" x2="310.79" y2="233.60" stroke="#333" stroke-width="0.45" />
<polygon points="310.79,233.60 312.39,232.90 312.39,234.30" fill="#333"/>
<line x1="312.90" y1="237.90" x2="308.38" y2="237.90" stroke="#333" stroke-width="0.45" />
<polygon points="308.38,237.90 309.98,237.20 309.98,238.60" fill="#333"/>
<line x1="312.90" y1="242.20" x2="305.96" y2="242.20" stroke="#333" stroke-width="0.45" />
<polygon points="305.96,242.20 307.56,241.50 307.56,242.90" fill="#333"/>
<line x1="312.90" y1="246.50" x2="303.55" y2="246.50" stroke="#333" stroke-width="0.45" />
<polygon points="303.55,246.50 305.15,245.80 305.15,247.20" fill="#333"/>
<line x1="312.90" y1="227.00" x2="344.90" y2="214.60" stroke="#333" stroke-width="0.55" />
<circle cx="332.2" cy="219.6" r="0.9" fill="#333"/>
<path d="M344.5,216.5 A33,33 0 0 1 346.5,227" fill="none" stroke="#333" stroke-width="0.5" stroke-dasharray="1,0.8"/>
<text x="307.20" y="204.40" font-size="6.8" text-anchor="middle" font-family='"Liberation Serif", serif' fill="#222" stroke="#222" stroke-width="0.09" >z</text>
<text x="319.00" y="204.60" font-size="6.5" text-anchor="start" font-family='"Liberation Serif", serif' fill="#222" stroke="#222" stroke-width="0.09" ><tspan font-style="italic">v</tspan><tspan font-size="4.5" dy="1">x</tspan><tspan dy="-1"> = </tspan><tspan font-style="italic">zγ̇</tspan></text>
<text x="324.70" y="216.00" font-size="5.6" text-anchor="start" font-family='"Liberation Serif", serif' fill="#222" stroke="#222" stroke-width="0.09" >marker</text>
<text x="350.90" y="222.30" font-size="6.5" text-anchor="middle" font-family='"Liberation Serif", serif' fill="#222" stroke="#222" stroke-width="0.09" >θ</text>
<text x="350.00" y="233.80" font-size="6.8" text-anchor="middle" font-family='"Liberation Serif", serif' fill="#222" stroke="#222" stroke-width="0.09" >x</text>
<rect x="379.40" y="172.30" width="144.20" height="93.70" fill="none" stroke="#000" stroke-width="1.2"/>
<line x1="379.40" y1="257.35" x2="382.00" y2="257.35" stroke="#000" stroke-width="0.9" />
<line x1="523.60" y1="257.35" x2="521.00" y2="257.35" stroke="#000" stroke-width="0.9" />
<line x1="379.40" y1="238.22" x2="382.00" y2="238.22" stroke="#000" stroke-width="0.9" />
<line x1="523.60" y1="238.22" x2="521.00" y2="238.22" stroke="#000" stroke-width="0.9" />
<line x1="379.40" y1="219.10" x2="382.00" y2="219.10" stroke="#000" stroke-width="0.9" />
<line x1="523.60" y1="219.10" x2="521.00" y2="219.10" stroke="#000" stroke-width="0.9" />
<line x1="379.40" y1="199.97" x2="382.00" y2="199.97" stroke="#000" stroke-width="0.9" />
<line x1="523.60" y1="199.97" x2="521.00" y2="199.97" stroke="#000" stroke-width="0.9" />
<line x1="379.40" y1="180.85" x2="382.00" y2="180.85" stroke="#000" stroke-width="0.9" />
<line x1="523.60" y1="180.85" x2="521.00" y2="180.85" stroke="#000" stroke-width="0.9" />
<line x1="379.40" y1="247.79" x2="381.00" y2="247.79" stroke="#000" stroke-width="0.9" />
<line x1="523.60" y1="247.79" x2="522.00" y2="247.79" stroke="#000" stroke-width="0.9" />
<line x1="379.40" y1="228.66" x2="381.00" y2="228.66" stroke="#000" stroke-width="0.9" />
<line x1="523.60" y1="228.66" x2="522.00" y2="228.66" stroke="#000" stroke-width="0.9" />
<line x1="379.40" y1="209.54" x2="381.00" y2="209.54" stroke="#000" stroke-width="0.9" />
<line x1="523.60" y1="209.54" x2="522.00" y2="209.54" stroke="#000" stroke-width="0.9" />
<line x1="379.40" y1="190.41" x2="381.00" y2="190.41" stroke="#000" stroke-width="0.9" />
<line x1="523.60" y1="190.41" x2="522.00" y2="190.41" stroke="#000" stroke-width="0.9" />
<line x1="403.40" y1="266.00" x2="403.40" y2="263.40" stroke="#000" stroke-width="0.9" />
<line x1="403.40" y1="172.30" x2="403.40" y2="174.90" stroke="#000" stroke-width="0.9" />
<line x1="427.40" y1="266.00" x2="427.40" y2="263.40" stroke="#000" stroke-width="0.9" />
<line x1="427.40" y1="172.30" x2="427.40" y2="174.90" stroke="#000" stroke-width="0.9" />
<line x1="451.40" y1="266.00" x2="451.40" y2="263.40" stroke="#000" stroke-width="0.9" />
<line x1="451.40" y1="172.30" x2="451.40" y2="174.90" stroke="#000" stroke-width="0.9" />
<line x1="475.40" y1="266.00" x2="475.40" y2="263.40" stroke="#000" stroke-width="0.9" />
<line x1="475.40" y1="172.30" x2="475.40" y2="174.90" stroke="#000" stroke-width="0.9" />
<line x1="499.40" y1="266.00" x2="499.40" y2="263.40" stroke="#000" stroke-width="0.9" />
<line x1="499.40" y1="172.30" x2="499.40" y2="174.90" stroke="#000" stroke-width="0.9" />
<line x1="391.40" y1="266.00" x2="391.40" y2="264.40" stroke="#000" stroke-width="0.9" />
<line x1="391.40" y1="172.30" x2="391.40" y2="173.90" stroke="#000" stroke-width="0.9" />
<line x1="415.40" y1="266.00" x2="415.40" y2="264.40" stroke="#000" stroke-width="0.9" />
<line x1="415.40" y1="172.30" x2="415.40" y2="173.90" stroke="#000" stroke-width="0.9" />
<line x1="439.40" y1="266.00" x2="439.40" y2="264.40" stroke="#000" stroke-width="0.9" />
<line x1="439.40" y1="172.30" x2="439.40" y2="173.90" stroke="#000" stroke-width="0.9" />
<line x1="463.40" y1="266.00" x2="463.40" y2="264.40" stroke="#000" stroke-width="0.9" />
<line x1="463.40" y1="172.30" x2="463.40" y2="173.90" stroke="#000" stroke-width="0.9" />
<line x1="487.40" y1="266.00" x2="487.40" y2="264.40" stroke="#000" stroke-width="0.9" />
<line x1="487.40" y1="172.30" x2="487.40" y2="173.90" stroke="#000" stroke-width="0.9" />
<line x1="511.40" y1="266.00" x2="511.40" y2="264.40" stroke="#000" stroke-width="0.9" />
<line x1="511.40" y1="172.30" x2="511.40" y2="173.90" stroke="#000" stroke-width="0.9" />
<text x="376.80" y="183.75" font-size="6.3" text-anchor="end" font-family='"Liberation Serif", serif' fill="#222" stroke="#222" stroke-width="0.09" >90</text>
<text x="376.80" y="202.88" font-size="6.3" text-anchor="end" font-family='"Liberation Serif", serif' fill="#222" stroke="#222" stroke-width="0.09" >45</text>
<text x="376.80" y="222.00" font-size="6.3" text-anchor="end" font-family='"Liberation Serif", serif' fill="#222" stroke="#222" stroke-width="0.09" >0</text>
<text x="376.80" y="241.12" font-size="6.3" text-anchor="end" font-family='"Liberation Serif", serif' fill="#222" stroke="#222" stroke-width="0.09" >-45</text>
<text x="376.80" y="260.25" font-size="6.3" text-anchor="end" font-family='"Liberation Serif", serif' fill="#222" stroke="#222" stroke-width="0.09" >-90</text>
<text x="379.40" y="273.90" font-size="6.2" text-anchor="middle" font-family='"Liberation Serif", serif' fill="#222" stroke="#222" stroke-width="0.09" >0.0</text>
<text x="403.40" y="273.90" font-size="6.2" text-anchor="middle" font-family='"Liberation Serif", serif' fill="#222" stroke="#222" stroke-width="0.09" >0.1</text>
<text x="427.40" y="273.90" font-size="6.2" text-anchor="middle" font-family='"Liberation Serif", serif' fill="#222" stroke="#222" stroke-width="0.09" >0.2</text>
<text x="451.40" y="273.90" font-size="6.2" text-anchor="middle" font-family='"Liberation Serif", serif' fill="#222" stroke="#222" stroke-width="0.09" >0.3</text>
<text x="475.40" y="273.90" font-size="6.2" text-anchor="middle" font-family='"Liberation Serif", serif' fill="#222" stroke="#222" stroke-width="0.09" >0.4</text>
<text x="499.40" y="273.90" font-size="6.2" text-anchor="middle" font-family='"Liberation Serif", serif' fill="#222" stroke="#222" stroke-width="0.09" >0.5</text>
<text x="523.40" y="273.90" font-size="6.2" text-anchor="middle" font-family='"Liberation Serif", serif' fill="#222" stroke="#222" stroke-width="0.09" >0.6</text>
<text x="366.30" y="221.20" font-size="7.3" text-anchor="middle" font-family='"Liberation Serif", serif' fill="#222" stroke="#222" stroke-width="0.15" transform="rotate(-90 366.3 221.2)">Marker Angular Trajectory θ (°)</text>
<text x="452.50" y="280.60" font-size="7.3" text-anchor="middle" font-family='"Liberation Serif", serif' fill="#222" stroke="#222" stroke-width="0.15" >Simulation Time <tspan font-style="italic">t</tspan> (s)</text>
<clipPath id="clipD"><rect x="379.4" y="172.3" width="144.20000000000005" height="93.69999999999999"/></clipPath>
<path d="M378.71,183.58 L379.02,186.21 L379.33,188.74 L379.64,191.24 L379.95,193.60 L380.26,195.72 L380.57,197.67 L380.88,199.57 L381.19,201.36 L381.50,202.98 L381.81,204.38 L382.12,205.50 L382.43,206.41 L382.74,207.20 L383.05,207.91 L383.36,208.55 L383.67,209.14 L383.98,209.70 L384.29,210.26 L384.60,210.84 L384.91,211.45 L385.22,212.07 L385.53,212.68 L385.84,213.27 L386.15,213.85 L386.46,214.44 L386.77,215.04 L387.08,215.66 L387.39,216.30 L387.70,216.97 L388.01,217.68 L388.32,218.41 L388.63,219.16 L388.94,219.94 L389.25,220.73 L389.56,221.56 L389.87,222.41 L390.18,223.29 L390.49,224.20 L390.80,225.13 L391.11,226.09 L391.42,227.08 L391.73,228.11 L392.04,229.18 L392.35,230.29 L392.66,231.46 L392.97,232.69 L393.28,233.97 L393.59,235.36 L393.90,236.85 L394.21,238.45 L394.52,240.15 L394.83,241.91 L395.14,243.75 L395.45,245.70 L395.76,247.81 L396.07,250.03 L396.38,252.33 L396.69,254.78 L397.00,257.35 L397.00,180.85 M397.31,183.58 L397.62,186.21 L397.93,188.74 L398.24,191.24 L398.55,193.60 L398.86,195.72 L399.17,197.67 L399.48,199.57 L399.79,201.36 L400.10,202.98 L400.41,204.38 L400.72,205.50 L401.03,206.41 L401.34,207.20 L401.65,207.91 L401.96,208.55 L402.27,209.14 L402.58,209.70 L402.89,210.26 L403.20,210.84 L403.51,211.45 L403.82,212.07 L404.13,212.68 L404.44,213.27 L404.75,213.85 L405.06,214.44 L405.37,215.04 L405.68,215.66 L405.99,216.30 L406.30,216.97 L406.61,217.68 L406.92,218.41 L407.23,219.16 L407.54,219.94 L407.85,220.73 L408.16,221.56 L408.47,222.41 L408.78,223.29 L409.09,224.20 L409.40,225.13 L409.71,226.09 L410.02,227.08 L410.33,228.11 L410.64,229.18 L410.95,230.29 L411.26,231.46 L411.57,232.69 L411.88,233.97 L412.19,235.36 L412.50,236.85 L412.81,238.45 L413.12,240.15 L413.43,241.91 L413.74,243.75 L414.05,245.70 L414.36,247.81 L414.67,250.03 L414.98,252.33 L415.29,254.78 L415.60,257.35 L415.60,180.85 M415.93,183.58 L416.25,186.21 L416.58,188.74 L416.91,191.24 L417.23,193.60 L417.56,195.72 L417.89,197.67 L418.21,199.57 L418.54,201.36 L418.87,202.98 L419.19,204.38 L419.52,205.50 L419.85,206.41 L420.17,207.20 L420.50,207.91 L420.83,208.55 L421.15,209.14 L421.48,209.70 L421.81,210.26 L422.13,210.84 L422.46,211.45 L422.79,212.07 L423.11,212.68 L423.44,213.27 L423.77,213.85 L424.09,214.44 L424.42,215.04 L424.75,215.66 L425.07,216.30 L425.40,216.97 L425.73,217.68 L426.05,218.41 L426.38,219.16 L426.71,219.94 L427.03,220.73 L427.36,221.56 L427.69,222.41 L428.01,223.29 L428.34,224.20 L428.67,225.13 L428.99,226.09 L429.32,227.08 L429.65,228.11 L429.97,229.18 L430.30,230.29 L430.63,231.46 L430.95,232.69 L431.28,233.97 L431.61,235.36 L431.93,236.85 L432.26,238.45 L432.59,240.15 L432.91,241.91 L433.24,243.75 L433.57,245.70 L433.89,247.81 L434.22,250.03 L434.55,252.33 L434.87,254.78 L435.20,257.35 L435.20,180.85 M435.54,183.58 L435.89,186.21 L436.23,188.74 L436.57,191.24 L436.92,193.60 L437.26,195.72 L437.60,197.67 L437.95,199.57 L438.29,201.36 L438.63,202.98 L438.98,204.38 L439.32,205.50 L439.66,206.41 L440.01,207.20 L440.35,207.91 L440.69,208.55 L441.04,209.14 L441.38,209.70 L441.72,210.26 L442.07,210.84 L442.41,211.45 L442.75,212.07 L443.10,212.68 L443.44,213.27 L443.78,213.85 L444.13,214.44 L444.47,215.04 L444.81,215.66 L445.16,216.30 L445.50,216.97 L445.84,217.68 L446.19,218.41 L446.53,219.16 L446.87,219.94 L447.22,220.73 L447.56,221.56 L447.90,222.41 L448.25,223.29 L448.59,224.20 L448.93,225.13 L449.28,226.09 L449.62,227.08 L449.96,228.11 L450.31,229.18 L450.65,230.29 L450.99,231.46 L451.34,232.69 L451.68,233.97 L452.02,235.36 L452.37,236.85 L452.71,238.45 L453.05,240.15 L453.40,241.91 L453.74,243.75 L454.08,245.70 L454.43,247.81 L454.77,250.03 L455.11,252.33 L455.46,254.78 L455.80,257.35 L455.80,180.85 M456.13,183.58 L456.45,186.21 L456.78,188.74 L457.11,191.24 L457.43,193.60 L457.76,195.72 L458.09,197.67 L458.41,199.57 L458.74,201.36 L459.07,202.98 L459.39,204.38 L459.72,205.50 L460.05,206.41 L460.37,207.20 L460.70,207.91 L461.03,208.55 L461.35,209.14 L461.68,209.70 L462.01,210.26 L462.33,210.84 L462.66,211.45 L462.99,212.07 L463.31,212.68 L463.64,213.27 L463.97,213.85 L464.29,214.44 L464.62,215.04 L464.95,215.66 L465.27,216.30 L465.60,216.97 L465.93,217.68 L466.25,218.41 L466.58,219.16 L466.91,219.94 L467.23,220.73 L467.56,221.56 L467.89,222.41 L468.21,223.29 L468.54,224.20 L468.87,225.13 L469.19,226.09 L469.52,227.08 L469.85,228.11 L470.17,229.18 L470.50,230.29 L470.83,231.46 L471.15,232.69 L471.48,233.97 L471.81,235.36 L472.13,236.85 L472.46,238.45 L472.79,240.15 L473.11,241.91 L473.44,243.75 L473.77,245.70 L474.09,247.81 L474.42,250.03 L474.75,252.33 L475.07,254.78 L475.40,257.35 L475.40,180.85 M475.73,183.58 L476.05,186.21 L476.38,188.74 L476.71,191.24 L477.03,193.60 L477.36,195.72 L477.69,197.67 L478.01,199.57 L478.34,201.36 L478.67,202.98 L478.99,204.38 L479.32,205.50 L479.65,206.41 L479.97,207.20 L480.30,207.91 L480.63,208.55 L480.95,209.14 L481.28,209.70 L481.61,210.26 L481.93,210.84 L482.26,211.45 L482.59,212.07 L482.91,212.68 L483.24,213.27 L483.57,213.85 L483.89,214.44 L484.22,215.04 L484.55,215.66 L484.87,216.30 L485.20,216.97 L485.53,217.68 L485.85,218.41 L486.18,219.16 L486.51,219.94 L486.83,220.73 L487.16,221.56 L487.49,222.41 L487.81,223.29 L488.14,224.20 L488.47,225.13 L488.79,226.09 L489.12,227.08 L489.45,228.11 L489.77,229.18 L490.10,230.29 L490.43,231.46 L490.75,232.69 L491.08,233.97 L491.41,235.36 L491.73,236.85 L492.06,238.45 L492.39,240.15 L492.71,241.91 L493.04,243.75 L493.37,245.70 L493.69,247.81 L494.02,250.03 L494.35,252.33 L494.67,254.78 L495.00,257.35 L495.00,180.85 M495.33,183.58 L495.65,186.21 L495.98,188.74 L496.31,191.24 L496.63,193.60 L496.96,195.72 L497.29,197.67 L497.61,199.57 L497.94,201.36 L498.27,202.98 L498.59,204.38 L498.92,205.50 L499.25,206.41 L499.57,207.20 L499.90,207.91 L500.23,208.55 L500.55,209.14 L500.88,209.70 L501.21,210.26 L501.53,210.84 L501.86,211.45 L502.19,212.07 L502.51,212.68 L502.84,213.27 L503.17,213.85 L503.49,214.44 L503.82,215.04 L504.15,215.66 L504.47,216.30 L504.80,216.97 L505.13,217.68 L505.45,218.41 L505.78,219.16 L506.11,219.94 L506.43,220.73 L506.76,221.56 L507.09,222.41 L507.41,223.29 L507.74,224.20 L508.07,225.13 L508.39,226.09 L508.72,227.08 L509.05,228.11 L509.37,229.18 L509.70,230.29 L510.03,231.46 L510.35,232.69 L510.68,233.97 L511.01,235.36 L511.33,236.85 L511.66,238.45 L511.99,240.15 L512.31,241.91 L512.64,243.75 L512.97,245.70 L513.29,247.81 L513.62,250.03 L513.95,252.33 L514.27,254.78 L514.60,257.35 L514.60,180.85 M514.93,183.58 L515.25,186.21 L515.58,188.74 L515.91,191.24 L516.23,193.60 L516.56,195.72 L516.89,197.67 L517.21,199.57 L517.54,201.36 L517.87,202.98 L518.19,204.38 L518.52,205.50 L518.85,206.41 L519.17,207.20 L519.50,207.91 L519.83,208.55 L520.15,209.14 L520.48,209.70 L520.81,210.26 L521.13,210.84 L521.46,211.45 L521.79,212.07 L522.11,212.68 L522.44,213.27 L522.77,213.85 L523.09,214.44 L523.42,215.04 L523.75,215.66 L524.07,216.30 L524.40,216.97" fill="none" stroke="#2a9a90" stroke-width="1.1" stroke-dasharray="2.6,0.9,0.8,0.9" clip-path="url(#clipD)"/>
<path d="M378.90,181.78 L379.40,182.75 L379.90,183.73 L380.40,184.75 L380.90,185.79 L381.40,186.86 L381.90,187.95 L382.40,189.06 L382.90,190.20 L383.40,191.39 L383.90,192.66 L384.40,193.98 L384.90,195.34 L385.40,196.72 L385.90,198.10 L386.40,199.47 L386.90,200.81 L387.40,202.09 L387.90,203.31 L388.40,204.44 L388.90,205.50 L389.40,206.49 L389.90,207.43 L390.40,208.34 L390.90,209.23 L391.40,210.10 L391.90,210.98 L392.40,211.88 L392.90,212.81 L393.40,213.79 L393.90,214.82 L394.40,215.93 L394.90,217.11 L395.40,218.35 L395.90,219.65 L396.40,221.00 L396.90,222.39 L397.40,223.81 L397.90,225.26 L398.40,226.72 L398.90,228.19 L399.40,229.66 L399.90,231.12 L400.40,232.56 L400.90,233.97 L401.40,235.36 L401.90,236.73 L402.40,238.09 L402.90,239.46 L403.40,240.83 L403.90,242.24 L404.40,243.68 L404.90,245.17 L405.40,246.72 L405.90,248.35 L406.40,250.04 L406.90,251.79 L407.40,253.60 L407.90,255.46 L408.40,257.35 L408.40,180.85 M408.91,181.78 L409.43,182.75 L409.94,183.73 L410.46,184.75 L410.97,185.79 L411.49,186.86 L412.00,187.95 L412.52,189.06 L413.03,190.20 L413.55,191.39 L414.06,192.66 L414.58,193.98 L415.09,195.34 L415.61,196.72 L416.12,198.10 L416.64,199.47 L417.15,200.81 L417.67,202.09 L418.19,203.31 L418.70,204.44 L419.21,205.50 L419.73,206.49 L420.25,207.43 L420.76,208.34 L421.27,209.23 L421.79,210.10 L422.31,210.98 L422.82,211.88 L423.33,212.81 L423.85,213.79 L424.37,214.82 L424.88,215.93 L425.39,217.11 L425.91,218.35 L426.43,219.65 L426.94,221.00 L427.45,222.39 L427.97,223.81 L428.49,225.26 L429.00,226.72 L429.51,228.19 L430.03,229.66 L430.55,231.12 L431.06,232.56 L431.57,233.97 L432.09,235.36 L432.61,236.73 L433.12,238.09 L433.63,239.46 L434.15,240.83 L434.67,242.24 L435.18,243.68 L435.69,245.17 L436.21,246.72 L436.73,248.35 L437.24,250.04 L437.75,251.79 L438.27,253.60 L438.79,255.46 L439.30,257.35 L439.30,180.85 M439.86,181.78 L440.42,182.75 L440.98,183.73 L441.54,184.75 L442.10,185.79 L442.66,186.86 L443.22,187.95 L443.78,189.06 L444.34,190.20 L444.90,191.39 L445.46,192.66 L446.02,193.98 L446.58,195.34 L447.14,196.72 L447.70,198.10 L448.26,199.47 L448.82,200.81 L449.38,202.09 L449.94,203.31 L450.50,204.44 L451.06,205.50 L451.62,206.49 L452.18,207.43 L452.74,208.34 L453.30,209.23 L453.86,210.10 L454.42,210.98 L454.98,211.88 L455.54,212.81 L456.10,213.79 L456.66,214.82 L457.22,215.93 L457.78,217.11 L458.34,218.35 L458.90,219.65 L459.46,221.00 L460.02,222.39 L460.58,223.81 L461.14,225.26 L461.70,226.72 L462.26,228.19 L462.82,229.66 L463.38,231.12 L463.94,232.56 L464.50,233.97 L465.06,235.36 L465.62,236.73 L466.18,238.09 L466.74,239.46 L467.30,240.83 L467.86,242.24 L468.42,243.68 L468.98,245.17 L469.54,246.72 L470.10,248.35 L470.66,250.04 L471.22,251.79 L471.78,253.60 L472.34,255.46 L472.90,257.35 L472.90,180.85 M473.46,181.78 L474.02,182.75 L474.57,183.73 L475.13,184.75 L475.69,185.79 L476.25,186.86 L476.81,187.95 L477.37,189.06 L477.92,190.20 L478.48,191.39 L479.04,192.66 L479.60,193.98 L480.16,195.34 L480.72,196.72 L481.27,198.10 L481.83,199.47 L482.39,200.81 L482.95,202.09 L483.51,203.31 L484.07,204.44 L484.62,205.50 L485.18,206.49 L485.74,207.43 L486.30,208.34 L486.86,209.23 L487.42,210.10 L487.97,210.98 L488.53,211.88 L489.09,212.81 L489.65,213.79 L490.21,214.82 L490.77,215.93 L491.32,217.11 L491.88,218.35 L492.44,219.65 L493.00,221.00 L493.56,222.39 L494.12,223.81 L494.67,225.26 L495.23,226.72 L495.79,228.19 L496.35,229.66 L496.91,231.12 L497.47,232.56 L498.02,233.97 L498.58,235.36 L499.14,236.73 L499.70,238.09 L500.26,239.46 L500.82,240.83 L501.38,242.24 L501.93,243.68 L502.49,245.17 L503.05,246.72 L503.61,248.35 L504.17,250.04 L504.72,251.79 L505.28,253.60 L505.84,255.46 L506.40,257.35 L506.40,180.85 M506.96,181.78 L507.52,182.75 L508.07,183.73 L508.63,184.75 L509.19,185.79 L509.75,186.86 L510.31,187.95 L510.87,189.06 L511.42,190.20 L511.98,191.39 L512.54,192.66 L513.10,193.98 L513.66,195.34 L514.22,196.72 L514.77,198.10 L515.33,199.47 L515.89,200.81 L516.45,202.09 L517.01,203.31 L517.57,204.44 L518.12,205.50 L518.68,206.49 L519.24,207.43 L519.80,208.34 L520.36,209.23 L520.92,210.10 L521.48,210.98 L522.03,211.88 L522.59,212.81 L523.15,213.79 L523.71,214.82 L524.27,215.93" fill="none" stroke="#2040f0" stroke-width="1.4" stroke-dasharray="1.2,1.2" clip-path="url(#clipD)"/>
<path d="M378.80,183.58 L379.21,186.21 L379.61,188.74 L380.01,191.24 L380.42,193.60 L380.82,195.72 L381.22,197.67 L381.63,199.57 L382.03,201.36 L382.43,202.98 L382.84,204.38 L383.24,205.50 L383.64,206.41 L384.05,207.20 L384.45,207.91 L384.85,208.55 L385.26,209.14 L385.66,209.70 L386.06,210.26 L386.47,210.84 L386.87,211.45 L387.27,212.07 L387.68,212.68 L388.08,213.27 L388.48,213.85 L388.89,214.44 L389.29,215.04 L389.69,215.66 L390.10,216.30 L390.50,216.97 L390.90,217.68 L391.31,218.41 L391.71,219.16 L392.11,219.94 L392.52,220.73 L392.92,221.56 L393.32,222.41 L393.73,223.29 L394.13,224.20 L394.53,225.13 L394.94,226.09 L395.34,227.08 L395.74,228.11 L396.15,229.18 L396.55,230.29 L396.95,231.46 L397.36,232.69 L397.76,233.97 L398.16,235.36 L398.57,236.85 L398.97,238.45 L399.37,240.15 L399.78,241.91 L400.18,243.75 L400.58,245.70 L400.99,247.81 L401.39,250.03 L401.79,252.33 L402.20,254.78 L402.60,257.35 L402.60,180.85 M403.11,183.58 L403.61,186.21 L404.12,188.74 L404.62,191.24 L405.12,193.60 L405.63,195.72 L406.13,197.67 L406.64,199.57 L407.15,201.36 L407.65,202.98 L408.16,204.38 L408.66,205.50 L409.17,206.41 L409.67,207.20 L410.18,207.91 L410.68,208.55 L411.19,209.14 L411.69,209.70 L412.19,210.26 L412.70,210.84 L413.20,211.45 L413.71,212.07 L414.22,212.68 L414.72,213.27 L415.23,213.85 L415.73,214.44 L416.24,215.04 L416.74,215.66 L417.25,216.30 L417.75,216.97 L418.25,217.68 L418.76,218.41 L419.26,219.16 L419.77,219.94 L420.27,220.73 L420.78,221.56 L421.28,222.41 L421.79,223.29 L422.30,224.20 L422.80,225.13 L423.31,226.09 L423.81,227.08 L424.31,228.11 L424.82,229.18 L425.32,230.29 L425.83,231.46 L426.33,232.69 L426.84,233.97 L427.34,235.36 L427.85,236.85 L428.35,238.45 L428.86,240.15 L429.37,241.91 L429.87,243.75 L430.38,245.70 L430.88,247.81 L431.38,250.03 L431.89,252.33 L432.39,254.78 L432.90,257.35 L432.90,180.85 M433.41,183.58 L433.92,186.21 L434.44,188.74 L434.95,191.24 L435.46,193.60 L435.97,195.72 L436.48,197.67 L436.99,199.57 L437.50,201.36 L438.02,202.98 L438.53,204.38 L439.04,205.50 L439.55,206.41 L440.06,207.20 L440.57,207.91 L441.09,208.55 L441.60,209.14 L442.11,209.70 L442.62,210.26 L443.13,210.84 L443.64,211.45 L444.16,212.07 L444.67,212.68 L445.18,213.27 L445.69,213.85 L446.20,214.44 L446.71,215.04 L447.23,215.66 L447.74,216.30 L448.25,216.97 L448.76,217.68 L449.27,218.41 L449.79,219.16 L450.30,219.94 L450.81,220.73 L451.32,221.56 L451.83,222.41 L452.34,223.29 L452.86,224.20 L453.37,225.13 L453.88,226.09 L454.39,227.08 L454.90,228.11 L455.41,229.18 L455.93,230.29 L456.44,231.46 L456.95,232.69 L457.46,233.97 L457.97,235.36 L458.48,236.85 L459.00,238.45 L459.51,240.15 L460.02,241.91 L460.53,243.75 L461.04,245.70 L461.55,247.81 L462.06,250.03 L462.58,252.33 L463.09,254.78 L463.60,257.35 L463.60,180.85 M464.11,183.58 L464.62,186.21 L465.14,188.74 L465.65,191.24 L466.16,193.60 L466.67,195.72 L467.18,197.67 L467.69,199.57 L468.21,201.36 L468.72,202.98 L469.23,204.38 L469.74,205.50 L470.25,206.41 L470.76,207.20 L471.28,207.91 L471.79,208.55 L472.30,209.14 L472.81,209.70 L473.32,210.26 L473.83,210.84 L474.35,211.45 L474.86,212.07 L475.37,212.68 L475.88,213.27 L476.39,213.85 L476.90,214.44 L477.42,215.04 L477.93,215.66 L478.44,216.30 L478.95,216.97 L479.46,217.68 L479.97,218.41 L480.49,219.16 L481.00,219.94 L481.51,220.73 L482.02,221.56 L482.53,222.41 L483.04,223.29 L483.56,224.20 L484.07,225.13 L484.58,226.09 L485.09,227.08 L485.60,228.11 L486.11,229.18 L486.62,230.29 L487.14,231.46 L487.65,232.69 L488.16,233.97 L488.67,235.36 L489.18,236.85 L489.69,238.45 L490.21,240.15 L490.72,241.91 L491.23,243.75 L491.74,245.70 L492.25,247.81 L492.76,250.03 L493.28,252.33 L493.79,254.78 L494.30,257.35 L494.30,180.85 M494.78,183.58 L495.25,186.21 L495.73,188.74 L496.21,191.24 L496.68,193.60 L497.16,195.72 L497.64,197.67 L498.11,199.57 L498.59,201.36 L499.07,202.98 L499.54,204.38 L500.02,205.50 L500.50,206.41 L500.97,207.20 L501.45,207.91 L501.93,208.55 L502.40,209.14 L502.88,209.70 L503.36,210.26 L503.83,210.84 L504.31,211.45 L504.79,212.07 L505.26,212.68 L505.74,213.27 L506.22,213.85 L506.69,214.44 L507.17,215.04 L507.65,215.66 L508.12,216.30 L508.60,216.97 L509.08,217.68 L509.55,218.41 L510.03,219.16 L510.51,219.94 L510.98,220.73 L511.46,221.56 L511.94,222.41 L512.41,223.29 L512.89,224.20 L513.37,225.13 L513.84,226.09 L514.32,227.08 L514.80,228.11 L515.27,229.18 L515.75,230.29 L516.23,231.46 L516.70,232.69 L517.18,233.97 L517.66,235.36 L518.13,236.85 L518.61,238.45 L519.09,240.15 L519.56,241.91 L520.04,243.75 L520.52,245.70 L520.99,247.81 L521.47,250.03 L521.95,252.33 L522.42,254.78 L522.90,257.35 L522.90,180.85 M523.40,183.58 L523.90,186.21 L524.40,188.74" fill="none" stroke="#f03030" stroke-width="1.25" stroke-dasharray="3.2,1.8" clip-path="url(#clipD)"/>
<path d="M378.87,183.58 L379.35,186.21 L379.82,188.74 L380.29,191.24 L380.77,193.60 L381.24,195.72 L381.71,197.67 L382.19,199.57 L382.66,201.36 L383.13,202.98 L383.61,204.38 L384.08,205.50 L384.55,206.41 L385.03,207.20 L385.50,207.91 L385.97,208.55 L386.45,209.14 L386.92,209.70 L387.39,210.26 L387.87,210.84 L388.34,211.45 L388.81,212.07 L389.29,212.68 L389.76,213.27 L390.23,213.85 L390.71,214.44 L391.18,215.04 L391.65,215.66 L392.13,216.30 L392.60,216.97 L393.07,217.68 L393.55,218.41 L394.02,219.16 L394.49,219.94 L394.97,220.73 L395.44,221.56 L395.91,222.41 L396.39,223.29 L396.86,224.20 L397.33,225.13 L397.81,226.09 L398.28,227.08 L398.75,228.11 L399.23,229.18 L399.70,230.29 L400.17,231.46 L400.65,232.69 L401.12,233.97 L401.59,235.36 L402.07,236.85 L402.54,238.45 L403.01,240.15 L403.49,241.91 L403.96,243.75 L404.43,245.70 L404.91,247.81 L405.38,250.03 L405.85,252.33 L406.33,254.78 L406.80,257.35 L406.80,180.85 M407.26,183.58 L407.73,186.21 L408.19,188.74 L408.66,191.24 L409.12,193.60 L409.59,195.72 L410.06,197.67 L410.52,199.57 L410.99,201.36 L411.45,202.98 L411.92,204.38 L412.38,205.50 L412.85,206.41 L413.31,207.20 L413.77,207.91 L414.24,208.55 L414.70,209.14 L415.17,209.70 L415.63,210.26 L416.10,210.84 L416.56,211.45 L417.03,212.07 L417.50,212.68 L417.96,213.27 L418.43,213.85 L418.89,214.44 L419.36,215.04 L419.82,215.66 L420.29,216.30 L420.75,216.97 L421.21,217.68 L421.68,218.41 L422.14,219.16 L422.61,219.94 L423.07,220.73 L423.54,221.56 L424.00,222.41 L424.47,223.29 L424.94,224.20 L425.40,225.13 L425.87,226.09 L426.33,227.08 L426.80,228.11 L427.26,229.18 L427.73,230.29 L428.19,231.46 L428.65,232.69 L429.12,233.97 L429.58,235.36 L430.05,236.85 L430.51,238.45 L430.98,240.15 L431.44,241.91 L431.91,243.75 L432.38,245.70 L432.84,247.81 L433.31,250.03 L433.77,252.33 L434.24,254.78 L434.70,257.35 L434.70,180.85 M435.21,183.58 L435.72,186.21 L436.24,188.74 L436.75,191.24 L437.26,193.60 L437.77,195.72 L438.28,197.67 L438.79,199.57 L439.31,201.36 L439.82,202.98 L440.33,204.38 L440.84,205.50 L441.35,206.41 L441.86,207.20 L442.38,207.91 L442.89,208.55 L443.40,209.14 L443.91,209.70 L444.42,210.26 L444.93,210.84 L445.44,211.45 L445.96,212.07 L446.47,212.68 L446.98,213.27 L447.49,213.85 L448.00,214.44 L448.51,215.04 L449.03,215.66 L449.54,216.30 L450.05,216.97 L450.56,217.68 L451.07,218.41 L451.58,219.16 L452.10,219.94 L452.61,220.73 L453.12,221.56 L453.63,222.41 L454.14,223.29 L454.65,224.20 L455.17,225.13 L455.68,226.09 L456.19,227.08 L456.70,228.11 L457.21,229.18 L457.72,230.29 L458.24,231.46 L458.75,232.69 L459.26,233.97 L459.77,235.36 L460.28,236.85 L460.79,238.45 L461.31,240.15 L461.82,241.91 L462.33,243.75 L462.84,245.70 L463.35,247.81 L463.86,250.03 L464.38,252.33 L464.89,254.78 L465.40,257.35 L465.40,180.85 M465.95,183.58 L466.50,186.21 L467.04,188.74 L467.59,191.24 L468.14,193.60 L468.69,195.72 L469.24,197.67 L469.79,199.57 L470.33,201.36 L470.88,202.98 L471.43,204.38 L471.98,205.50 L472.53,206.41 L473.08,207.20 L473.62,207.91 L474.17,208.55 L474.72,209.14 L475.27,209.70 L475.82,210.26 L476.37,210.84 L476.91,211.45 L477.46,212.07 L478.01,212.68 L478.56,213.27 L479.11,213.85 L479.66,214.44 L480.20,215.04 L480.75,215.66 L481.30,216.30 L481.85,216.97 L482.40,217.68 L482.95,218.41 L483.50,219.16 L484.04,219.94 L484.59,220.73 L485.14,221.56 L485.69,222.41 L486.24,223.29 L486.79,224.20 L487.33,225.13 L487.88,226.09 L488.43,227.08 L488.98,228.11 L489.53,229.18 L490.07,230.29 L490.62,231.46 L491.17,232.69 L491.72,233.97 L492.27,235.36 L492.82,236.85 L493.37,238.45 L493.91,240.15 L494.46,241.91 L495.01,243.75 L495.56,245.70 L496.11,247.81 L496.66,250.03 L497.20,252.33 L497.75,254.78 L498.30,257.35 L498.30,180.85 M498.85,183.58 L499.40,186.21 L499.95,188.74 L500.50,191.24 L501.05,193.60 L501.60,195.72 L502.15,197.67 L502.70,199.57 L503.25,201.36 L503.80,202.98 L504.35,204.38 L504.90,205.50 L505.45,206.41 L506.00,207.20 L506.55,207.91 L507.10,208.55 L507.65,209.14 L508.20,209.70 L508.75,210.26 L509.30,210.84 L509.85,211.45 L510.40,212.07 L510.95,212.68 L511.50,213.27 L512.05,213.85 L512.60,214.44 L513.15,215.04 L513.70,215.66 L514.25,216.30 L514.80,216.97 L515.35,217.68 L515.90,218.41 L516.45,219.16 L517.00,219.94 L517.55,220.73 L518.10,221.56 L518.65,222.41 L519.20,223.29 L519.75,224.20 L520.30,225.13 L520.85,226.09 L521.40,227.08 L521.95,228.11 L522.50,229.18 L523.05,230.29 L523.60,231.46 L524.15,232.69" fill="none" stroke="#111" stroke-width="1.0"  clip-path="url(#clipD)"/>
<polyline points="434.50,257.00 434.50,260.70 458.60,260.70" fill="none" stroke="#111" stroke-width="0.8" />
<polyline points="470.00,260.70 498.30,260.70 498.30,257.00" fill="none" stroke="#111" stroke-width="0.8" />
<text x="461.20" y="263.00" font-size="7.0" text-anchor="start" font-family='"Liberation Serif", serif' fill="#222" stroke="#222" stroke-width="0.15" font-weight="bold">P<tspan font-size="4.2" dy="1">m</tspan></text>
<rect x="380.4" y="173.10000000000002" width="142.20000000000005" height="5.6" fill="#fff"/>
<line x1="384.20" y1="175.70" x2="396.70" y2="175.70" stroke="#111" stroke-width="0.9" />
<text x="397.40" y="177.60" font-size="5.5" text-anchor="start" font-family='"Liberation Serif", serif' fill="#222" stroke="#222" stroke-width="0.09" >N-RBC</text>
<line x1="415.60" y1="175.70" x2="425.40" y2="175.70" stroke="#f03030" stroke-width="1.25" stroke-dasharray="3.2,1.8"/>
<text x="428.80" y="177.60" font-size="5.5" text-anchor="start" font-family='"Liberation Serif", serif' fill="#222" stroke="#222" stroke-width="0.09" >D-RBC1</text>
<line x1="448.50" y1="175.70" x2="460.60" y2="175.70" stroke="#2a9a90" stroke-width="1.1" stroke-dasharray="2.6,0.9,0.8,0.9"/>
<text x="462.60" y="177.60" font-size="5.5" text-anchor="start" font-family='"Liberation Serif", serif' fill="#222" stroke="#222" stroke-width="0.09" >D-RBC2</text>
<line x1="483.40" y1="175.70" x2="495.40" y2="175.70" stroke="#2040f0" stroke-width="1.4" stroke-dasharray="1.2,1.2"/>
<text x="497.00" y="177.60" font-size="5.5" text-anchor="start" font-family='"Liberation Serif", serif' fill="#222" stroke="#222" stroke-width="0.09" >D-RBC3</text>
<circle cx="283.5" cy="280.5" r="0.7" fill="#777"/>
<rect x="281.0" y="296.1" width="240.3" height="30.6" fill="#aeaeae"/>
<path d="M286,313.5 C286,308 292,306.5 300,306 C310,305 320,304 323.5,305.5 C326,307.5 322,311 315,314 C306,318 296,319.5 290,318.5 C287,317.5 286,315.5 286,313.5 Z" fill="#e692a8" stroke="#ea6288" stroke-width="0.9"/>
<path d="M286,313.5 C286,308 292,306.5 300,306 C310,305 320,304 323.5,305.5 C326,307.5 322,311 315,314 C306,318 296,319.5 290,318.5 C287,317.5 286,315.5 286,313.5 Z" fill="url(#cellmesh)"/>
<path d="M332,313 C332,307.5 340,305 350,304.5 C360,304 369,304 370.5,306.5 C371.5,310 365,314.5 357,317 C348,319.5 338,320 334,318 C332.5,316.5 332,314.5 332,313 Z" fill="#e692a8" stroke="#ea6288" stroke-width="0.9"/>
<path d="M332,313 C332,307.5 340,305 350,304.5 C360,304 369,304 370.5,306.5 C371.5,310 365,314.5 357,317 C348,319.5 338,320 334,318 C332.5,316.5 332,314.5 332,313 Z" fill="url(#cellmesh)"/>
<path d="M383.5,314 C383.5,308 388,304.5 396,303 C404,302 414,302 418.5,304 C420.5,307 420,313 416,317 C410,321 400,322.5 391,322 C386,321 383.5,318 383.5,314 Z" fill="#e692a8" stroke="#ea6288" stroke-width="0.9"/>
<path d="M383.5,314 C383.5,308 388,304.5 396,303 C404,302 414,302 418.5,304 C420.5,307 420,313 416,317 C410,321 400,322.5 391,322 C386,321 383.5,318 383.5,314 Z" fill="url(#cellmesh)"/>
<path d="M427.8,314 C428,309 436,306 446,304.8 C456,303.5 465,303 467.8,305 C469,308 465,312.5 456,316 C447,319 437,320 432,319.5 C429,318.5 427.8,316.5 427.8,314 Z" fill="#e692a8" stroke="#ea6288" stroke-width="0.9"/>
<path d="M427.8,314 C428,309 436,306 446,304.8 C456,303.5 465,303 467.8,305 C469,308 465,312.5 456,316 C447,319 437,320 432,319.5 C429,318.5 427.8,316.5 427.8,314 Z" fill="url(#cellmesh)"/>
<path d="M478,311 C478,307 484,305 492,304.8 C501,304.6 511,306 515.5,309 C517,312 512,316 504,318 C496,319.5 486,319 481,317 C478.5,315.5 478,313 478,311 Z" fill="#e692a8" stroke="#ea6288" stroke-width="0.9"/>
<path d="M478,311 C478,307 484,305 492,304.8 C501,304.6 511,306 515.5,309 C517,312 512,316 504,318 C496,319.5 486,319 481,317 C478.5,315.5 478,313 478,311 Z" fill="url(#cellmesh)"/>
<circle cx="297.5" cy="309.2" r="4.3" fill="none" stroke="#111" stroke-width="1.0" stroke-dasharray="1.5,1.0"/>
<circle cx="359.6" cy="307.3" r="4.3" fill="none" stroke="#111" stroke-width="1.0" stroke-dasharray="1.5,1.0"/>
<circle cx="415.6" cy="314.8" r="4.3" fill="none" stroke="#111" stroke-width="1.0" stroke-dasharray="1.5,1.0"/>
<circle cx="447.0" cy="318.8" r="4.3" fill="none" stroke="#111" stroke-width="1.0" stroke-dasharray="1.5,1.0"/>
<circle cx="482.7" cy="316.3" r="4.3" fill="none" stroke="#111" stroke-width="1.0" stroke-dasharray="1.5,1.0"/>
<text x="283.80" y="303.70" font-size="7.95" text-anchor="start" font-family='"Liberation Serif", serif' fill="#000" stroke="#000" stroke-width="0.22" >D-RBC1</text>
</svg></body></html>
